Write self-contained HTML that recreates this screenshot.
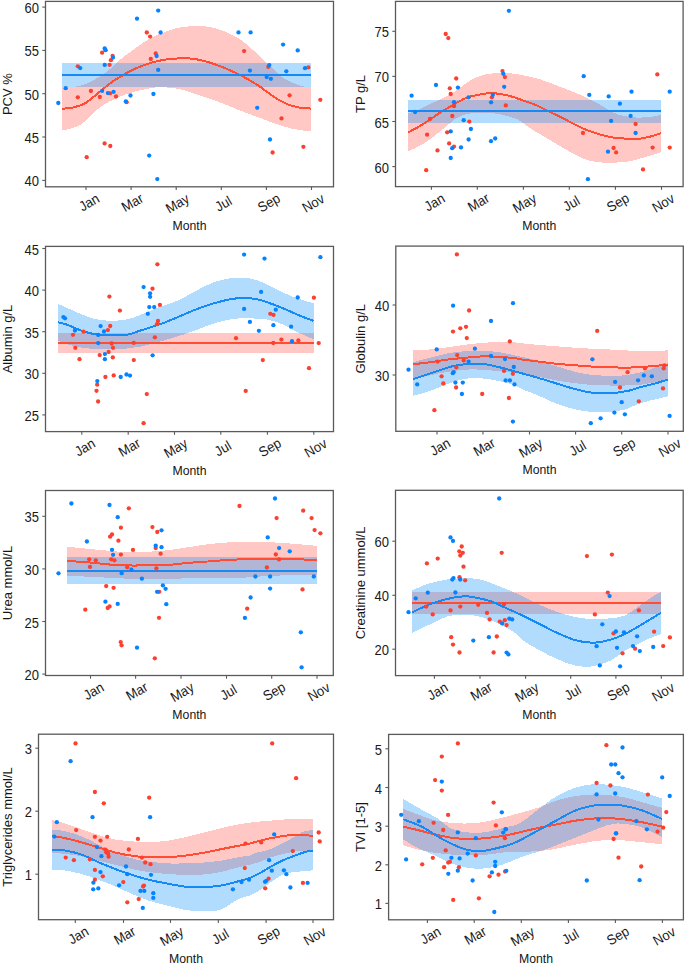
<!DOCTYPE html>
<html><head><meta charset="utf-8"><style>
html,body{margin:0;padding:0;background:#fff;}
svg{display:block;font-family:"Liberation Sans",sans-serif;}
</style></head><body>
<svg width="685" height="965" viewBox="0 0 685 965">
<rect width="685" height="965" fill="#ffffff"/>
<g clip-path="url(#c1)"><path d="M62,86.9 C64.22,86.85 71.78,86.95 75.3,86.6 C78.82,86.25 80.33,85.68 83.1,84.8 C85.87,83.92 89.27,82.62 91.9,81.3 C94.53,79.98 96.72,78.28 98.9,76.9 C101.08,75.52 102.95,74.47 105,73 C107.05,71.53 109.3,69.75 111.2,68.1 C113.1,66.45 114.5,64.85 116.4,63.1 C118.3,61.35 119.9,59.72 122.6,57.6 C125.3,55.48 129.12,52.92 132.6,50.4 C136.08,47.88 139.85,44.88 143.5,42.5 C147.15,40.12 150.92,37.85 154.5,36.1 C158.08,34.35 161.17,33.35 165,32 C168.83,30.65 171.92,29.02 177.5,28 C183.08,26.98 191.78,25.75 198.5,25.9 C205.22,26.05 211.08,26.8 217.8,28.9 C224.52,31 232.95,35 238.8,38.5 C244.65,42 248.52,46.1 252.9,49.9 C257.28,53.7 262.25,58.72 265.1,61.3 C267.95,63.88 267.48,63.02 270,65.4 C272.52,67.78 276.8,72.87 280.2,75.6 C283.6,78.33 286.48,79.98 290.4,81.8 C294.32,83.62 300.27,85.65 303.7,86.5 C307.13,87.35 309.78,86.83 311,86.9 L311,130.9 C309.78,130.85 307.13,131.03 303.7,130.6 C300.27,130.17 294.35,129.23 290.4,128.3 C286.45,127.37 283.4,126.1 280,125 C276.6,123.9 273.65,123 270,121.7 C266.35,120.4 263.3,119.13 258.1,117.2 C252.9,115.27 245.15,112.58 238.8,110.1 C232.45,107.62 227.07,104.95 220,102.3 C212.93,99.65 203.27,96.43 196.4,94.2 C189.53,91.97 184.65,90.07 178.8,88.9 C172.95,87.73 165.67,87.35 161.3,87.2 C156.93,87.05 156.98,87.28 152.6,88 C148.22,88.72 140.85,89.88 135,91.5 C129.15,93.12 123.33,95.07 117.5,97.7 C111.67,100.33 106.25,102.75 100,107.3 C93.75,111.85 86.33,121.12 80,125 C73.67,128.88 65,129.67 62,130.6 Z" fill="#FF483A" fill-opacity="0.3" shape-rendering="crispEdges"/><rect x="62" y="62.9" width="249.1" height="24" fill="#008CFA" fill-opacity="0.3" shape-rendering="crispEdges"/><path d="M62,108.7 C63.83,108.5 69.12,108.43 73,107.5 C76.88,106.57 81.2,105.43 85.3,103.1 C89.4,100.77 93.22,96.97 97.6,93.5 C101.98,90.03 106.93,85.62 111.6,82.3 C116.27,78.98 121.52,75.93 125.6,73.6 C129.68,71.27 132.02,70.05 136.1,68.3 C140.18,66.55 145.28,64.55 150.1,63.1 C154.92,61.65 160.52,60.37 165,59.6 C169.48,58.83 173.45,58.73 177,58.5 C180.55,58.27 182.13,57.88 186.3,58.2 C190.47,58.52 196.17,59 202,60.4 C207.83,61.8 214.87,64.12 221.3,66.6 C227.73,69.08 234.47,72.17 240.6,75.3 C246.73,78.43 253.77,82.68 258.1,85.4 C262.43,88.12 263.35,89.3 266.6,91.6 C269.85,93.9 273.95,97.03 277.6,99.2 C281.25,101.37 284.85,103.2 288.5,104.6 C292.15,106 295.75,106.93 299.5,107.6 C303.25,108.27 309.08,108.43 311,108.6" fill="none" stroke="#FF4C33" stroke-width="2.0" shape-rendering="crispEdges"/><line x1="62" y1="74.85" x2="311.1" y2="74.85" stroke="#158AF5" stroke-width="2.0" shape-rendering="crispEdges"/><circle cx="146.8" cy="32.5" r="2.15" fill="#FC4030"/><circle cx="150.1" cy="36.6" r="2.15" fill="#FC4030"/><circle cx="102.1" cy="52.7" r="2.15" fill="#FC4030"/><circle cx="112.6" cy="55.8" r="2.15" fill="#FC4030"/><circle cx="110.9" cy="60.2" r="2.15" fill="#FC4030"/><circle cx="155.7" cy="53.4" r="2.15" fill="#FC4030"/><circle cx="150.8" cy="59" r="2.15" fill="#FC4030"/><circle cx="109.6" cy="64.8" r="2.15" fill="#FC4030"/><circle cx="77.8" cy="66.3" r="2.15" fill="#FC4030"/><circle cx="90.9" cy="91" r="2.15" fill="#FC4030"/><circle cx="77.8" cy="97.3" r="2.15" fill="#FC4030"/><circle cx="99.8" cy="97" r="2.15" fill="#FC4030"/><circle cx="110.2" cy="93.3" r="2.15" fill="#FC4030"/><circle cx="116" cy="96.5" r="2.15" fill="#FC4030"/><circle cx="126.6" cy="102.2" r="2.15" fill="#FC4030"/><circle cx="104.6" cy="143.4" r="2.15" fill="#FC4030"/><circle cx="110.3" cy="146" r="2.15" fill="#FC4030"/><circle cx="86.7" cy="157.2" r="2.15" fill="#FC4030"/><circle cx="244.1" cy="51.1" r="2.15" fill="#FC4030"/><circle cx="268.3" cy="66.9" r="2.15" fill="#FC4030"/><circle cx="272.6" cy="152.5" r="2.15" fill="#FC4030"/><circle cx="308.4" cy="67.4" r="2.15" fill="#FC4030"/><circle cx="289.6" cy="95.3" r="2.15" fill="#FC4030"/><circle cx="320.3" cy="99.8" r="2.15" fill="#FC4030"/><circle cx="281.5" cy="118.4" r="2.15" fill="#FC4030"/><circle cx="303.4" cy="146.8" r="2.15" fill="#FC4030"/><circle cx="158.2" cy="10.6" r="2.15" fill="#0482FF"/><circle cx="137" cy="18.7" r="2.15" fill="#0482FF"/><circle cx="160.6" cy="32.5" r="2.15" fill="#0482FF"/><circle cx="104.7" cy="48.5" r="2.15" fill="#0482FF"/><circle cx="105.6" cy="50.2" r="2.15" fill="#0482FF"/><circle cx="113" cy="57.6" r="2.15" fill="#0482FF"/><circle cx="156.6" cy="56" r="2.15" fill="#0482FF"/><circle cx="104.7" cy="64.9" r="2.15" fill="#0482FF"/><circle cx="80.2" cy="68.1" r="2.15" fill="#0482FF"/><circle cx="158.2" cy="69.9" r="2.15" fill="#0482FF"/><circle cx="65.7" cy="88.2" r="2.15" fill="#0482FF"/><circle cx="102.1" cy="90.9" r="2.15" fill="#0482FF"/><circle cx="113.6" cy="91.8" r="2.15" fill="#0482FF"/><circle cx="107.9" cy="93.1" r="2.15" fill="#0482FF"/><circle cx="153.4" cy="94" r="2.15" fill="#0482FF"/><circle cx="130.5" cy="95.5" r="2.15" fill="#0482FF"/><circle cx="58.3" cy="103" r="2.15" fill="#0482FF"/><circle cx="125.8" cy="101.4" r="2.15" fill="#0482FF"/><circle cx="149.2" cy="155.6" r="2.15" fill="#0482FF"/><circle cx="157.3" cy="179.1" r="2.15" fill="#0482FF"/><circle cx="238.5" cy="32.4" r="2.15" fill="#0482FF"/><circle cx="250.6" cy="32.4" r="2.15" fill="#0482FF"/><circle cx="249.9" cy="70.6" r="2.15" fill="#0482FF"/><circle cx="269.3" cy="65.1" r="2.15" fill="#0482FF"/><circle cx="266.7" cy="77" r="2.15" fill="#0482FF"/><circle cx="270.9" cy="78.8" r="2.15" fill="#0482FF"/><circle cx="257.2" cy="107.8" r="2.15" fill="#0482FF"/><circle cx="270" cy="139.5" r="2.15" fill="#0482FF"/><circle cx="283.1" cy="44.6" r="2.15" fill="#0482FF"/><circle cx="297.7" cy="50.4" r="2.15" fill="#0482FF"/><circle cx="286.3" cy="71.3" r="2.15" fill="#0482FF"/><circle cx="305" cy="68.2" r="2.15" fill="#0482FF"/></g>
<clipPath id="c1"><rect x="45.5" y="1.4" width="288" height="185.4"/></clipPath>
<rect x="45.5" y="1.4" width="288" height="185.4" fill="none" stroke="#5a5a5a" stroke-width="1.3"/>
<line x1="42.3" y1="7.1" x2="45.5" y2="7.1" stroke="#5a5a5a" stroke-width="1.1"/>
<text transform="translate(38.9 13.1) scale(0.93 1)" font-size="14" text-anchor="end" fill="#1a1a1a">60</text>
<line x1="42.3" y1="50.4" x2="45.5" y2="50.4" stroke="#5a5a5a" stroke-width="1.1"/>
<text transform="translate(38.9 56.4) scale(0.93 1)" font-size="14" text-anchor="end" fill="#1a1a1a">55</text>
<line x1="42.3" y1="93.7" x2="45.5" y2="93.7" stroke="#5a5a5a" stroke-width="1.1"/>
<text transform="translate(38.9 99.7) scale(0.93 1)" font-size="14" text-anchor="end" fill="#1a1a1a">50</text>
<line x1="42.3" y1="137" x2="45.5" y2="137" stroke="#5a5a5a" stroke-width="1.1"/>
<text transform="translate(38.9 143) scale(0.93 1)" font-size="14" text-anchor="end" fill="#1a1a1a">45</text>
<line x1="42.3" y1="180.4" x2="45.5" y2="180.4" stroke="#5a5a5a" stroke-width="1.1"/>
<text transform="translate(38.9 186.4) scale(0.93 1)" font-size="14" text-anchor="end" fill="#1a1a1a">40</text>
<line x1="86" y1="186.8" x2="86" y2="190" stroke="#5a5a5a" stroke-width="1.1"/>
<text transform="translate(89 202.25) rotate(-30) scale(0.93 1)" y="5" font-size="14" text-anchor="middle" fill="#1a1a1a">Jan</text>
<line x1="131.1" y1="186.8" x2="131.1" y2="190" stroke="#5a5a5a" stroke-width="1.1"/>
<text transform="translate(132.2 202.4) rotate(-30) scale(0.93 1)" y="5" font-size="14" text-anchor="middle" fill="#1a1a1a">Mar</text>
<line x1="176.2" y1="186.8" x2="176.2" y2="190" stroke="#5a5a5a" stroke-width="1.1"/>
<text transform="translate(177.3 203.2) rotate(-30) scale(0.93 1)" y="5" font-size="14" text-anchor="middle" fill="#1a1a1a">May</text>
<line x1="221.3" y1="186.8" x2="221.3" y2="190" stroke="#5a5a5a" stroke-width="1.1"/>
<text transform="translate(223.2 203.5) rotate(-30) scale(0.93 1)" y="5" font-size="14" text-anchor="middle" fill="#1a1a1a">Jul</text>
<line x1="266.4" y1="186.8" x2="266.4" y2="190" stroke="#5a5a5a" stroke-width="1.1"/>
<text transform="translate(268.7 202.5) rotate(-30) scale(0.93 1)" y="5" font-size="14" text-anchor="middle" fill="#1a1a1a">Sep</text>
<line x1="311.5" y1="186.8" x2="311.5" y2="190" stroke="#5a5a5a" stroke-width="1.1"/>
<text transform="translate(313.2 203) rotate(-30) scale(0.93 1)" y="5" font-size="14" text-anchor="middle" fill="#1a1a1a">Nov</text>
<text transform="translate(189.5 229.8) scale(0.944 1)" font-size="13" text-anchor="middle" fill="#151515">Month</text>
<text transform="translate(12 94.1) rotate(-90) scale(1.0 1)" font-size="13" text-anchor="middle" fill="#151515">PCV %</text>
<g clip-path="url(#c2)"><path d="M408.1,113.6 C409.42,113.12 413.48,111.73 416,110.7 C418.52,109.67 420.78,108.55 423.2,107.4 C425.62,106.25 427.93,105.02 430.5,103.8 C433.07,102.58 435.55,101.57 438.6,100.1 C441.65,98.63 445.85,96.6 448.8,95 C451.75,93.4 452.77,92.92 456.3,90.5 C459.83,88.08 466.02,82.92 470,80.5 C473.98,78.08 476.45,77.18 480.2,76 C483.95,74.82 487.38,73.83 492.5,73.4 C497.62,72.97 505.28,72.97 510.9,73.4 C516.52,73.83 521.35,75.02 526.2,76 C531.05,76.98 534.77,77.67 540,79.3 C545.23,80.93 551.77,83.6 557.6,85.8 C563.43,88 569.35,90.1 575,92.5 C580.65,94.9 587.33,98.2 591.5,100.2 C595.67,102.2 597.37,102.98 600,104.5 C602.63,106.02 604.27,107.62 607.3,109.3 C610.33,110.98 613.83,113.25 618.2,114.6 C622.57,115.95 628.38,116.98 633.5,117.4 C638.62,117.82 644.33,117.5 648.9,117.1 C653.47,116.7 658.9,115.35 660.9,115 L660.9,152.3 C659.45,152.75 655.9,153.88 652.2,155 C648.5,156.12 643.23,157.83 638.7,159 C634.17,160.17 629.77,161.4 625,162 C620.23,162.6 614.62,162.58 610.1,162.6 C605.58,162.62 602.28,162.7 597.9,162.1 C593.52,161.5 589.07,161.05 583.8,159 C578.53,156.95 572.13,153.08 566.3,149.8 C560.47,146.52 554.63,142.77 548.8,139.3 C542.97,135.83 536.17,132.12 531.3,129 C526.43,125.88 523.15,122.63 519.6,120.6 C516.05,118.57 514.12,118 510,116.8 C505.88,115.6 499.95,114.08 494.9,113.4 C489.85,112.72 484.45,112.6 479.7,112.7 C474.95,112.8 470.18,113.15 466.4,114 C462.62,114.85 459.53,116.43 457,117.8 C454.47,119.17 452.8,120.93 451.2,122.2 C449.6,123.47 449.6,123.6 447.4,125.4 C445.2,127.2 441.15,130.48 438,133 C434.85,135.52 431.67,138.3 428.5,140.5 C425.33,142.7 422.4,144.33 419,146.2 C415.6,148.07 409.92,150.78 408.1,151.7 Z" fill="#FF483A" fill-opacity="0.3" shape-rendering="crispEdges"/><rect x="408.1" y="100.2" width="252.8" height="22.4" fill="#008CFA" fill-opacity="0.3" shape-rendering="crispEdges"/><path d="M408.1,132.4 C409.92,131.43 415.6,128.57 419,126.6 C422.4,124.63 425.33,122.7 428.5,120.6 C431.67,118.5 434.85,116.05 438,114 C441.15,111.95 444.23,110.2 447.4,108.3 C450.57,106.4 453.83,104.35 457,102.6 C460.17,100.85 463.25,99.02 466.4,97.8 C469.55,96.58 472.23,96.05 475.9,95.3 C479.57,94.55 484.27,93.52 488.4,93.3 C492.53,93.08 496.62,93.4 500.7,94 C504.78,94.6 509.17,95.82 512.9,96.9 C516.63,97.98 519.68,99.32 523.1,100.5 C526.52,101.68 529.12,102.2 533.4,104 C537.68,105.8 543.32,108.63 548.8,111.3 C554.28,113.97 560.47,117.08 566.3,120 C572.13,122.92 577.95,126.32 583.8,128.8 C589.65,131.28 596.43,133.43 601.4,134.9 C606.37,136.37 609.67,136.98 613.6,137.6 C617.53,138.22 620.82,138.4 625,138.6 C629.18,138.8 634.17,139.22 638.7,138.8 C643.23,138.38 648.5,137.03 652.2,136.1 C655.9,135.17 659.45,133.68 660.9,133.2" fill="none" stroke="#FF4C33" stroke-width="2.0" shape-rendering="crispEdges"/><line x1="408.1" y1="111.35" x2="660.9" y2="111.35" stroke="#158AF5" stroke-width="2.0" shape-rendering="crispEdges"/><circle cx="445.7" cy="34" r="2.15" fill="#FC4030"/><circle cx="448.3" cy="38.1" r="2.15" fill="#FC4030"/><circle cx="456.2" cy="78.5" r="2.15" fill="#FC4030"/><circle cx="449.8" cy="88.3" r="2.15" fill="#FC4030"/><circle cx="450.7" cy="94" r="2.15" fill="#FC4030"/><circle cx="454" cy="106.2" r="2.15" fill="#FC4030"/><circle cx="452.3" cy="116" r="2.15" fill="#FC4030"/><circle cx="430" cy="119" r="2.15" fill="#FC4030"/><circle cx="469.3" cy="121.6" r="2.15" fill="#FC4030"/><circle cx="427.1" cy="134.7" r="2.15" fill="#FC4030"/><circle cx="447.2" cy="132.3" r="2.15" fill="#FC4030"/><circle cx="449.1" cy="143.4" r="2.15" fill="#FC4030"/><circle cx="454" cy="146.6" r="2.15" fill="#FC4030"/><circle cx="437.5" cy="150.4" r="2.15" fill="#FC4030"/><circle cx="426.2" cy="170.2" r="2.15" fill="#FC4030"/><circle cx="491.9" cy="97.3" r="2.15" fill="#FC4030"/><circle cx="505.8" cy="105.4" r="2.15" fill="#FC4030"/><circle cx="504.9" cy="77.1" r="2.15" fill="#FC4030"/><circle cx="502.5" cy="71.1" r="2.15" fill="#FC4030"/><circle cx="583" cy="133" r="2.15" fill="#FC4030"/><circle cx="613.6" cy="148" r="2.15" fill="#FC4030"/><circle cx="616.1" cy="152.4" r="2.15" fill="#FC4030"/><circle cx="657.3" cy="74.4" r="2.15" fill="#FC4030"/><circle cx="635.6" cy="124" r="2.15" fill="#FC4030"/><circle cx="652.6" cy="147.6" r="2.15" fill="#FC4030"/><circle cx="669.7" cy="147.6" r="2.15" fill="#FC4030"/><circle cx="643" cy="169.4" r="2.15" fill="#FC4030"/><circle cx="411.6" cy="95.7" r="2.15" fill="#0482FF"/><circle cx="436" cy="85" r="2.15" fill="#0482FF"/><circle cx="457.9" cy="87.6" r="2.15" fill="#0482FF"/><circle cx="468.5" cy="97.3" r="2.15" fill="#0482FF"/><circle cx="454" cy="102.2" r="2.15" fill="#0482FF"/><circle cx="415.1" cy="112" r="2.15" fill="#0482FF"/><circle cx="463.7" cy="120.2" r="2.15" fill="#0482FF"/><circle cx="470.9" cy="129" r="2.15" fill="#0482FF"/><circle cx="450.7" cy="131.4" r="2.15" fill="#0482FF"/><circle cx="468.6" cy="139.5" r="2.15" fill="#0482FF"/><circle cx="461" cy="147.4" r="2.15" fill="#0482FF"/><circle cx="452.2" cy="148.2" r="2.15" fill="#0482FF"/><circle cx="450.7" cy="158" r="2.15" fill="#0482FF"/><circle cx="491" cy="141.2" r="2.15" fill="#0482FF"/><circle cx="495.2" cy="138.5" r="2.15" fill="#0482FF"/><circle cx="491.1" cy="102.3" r="2.15" fill="#0482FF"/><circle cx="492.9" cy="94.8" r="2.15" fill="#0482FF"/><circle cx="504.2" cy="86.8" r="2.15" fill="#0482FF"/><circle cx="503.3" cy="73.8" r="2.15" fill="#0482FF"/><circle cx="508.9" cy="10.8" r="2.15" fill="#0482FF"/><circle cx="583.7" cy="76.2" r="2.15" fill="#0482FF"/><circle cx="589.3" cy="94.9" r="2.15" fill="#0482FF"/><circle cx="608.7" cy="96.4" r="2.15" fill="#0482FF"/><circle cx="619.9" cy="103.7" r="2.15" fill="#0482FF"/><circle cx="611.1" cy="120.9" r="2.15" fill="#0482FF"/><circle cx="608" cy="151.7" r="2.15" fill="#0482FF"/><circle cx="587.9" cy="179.2" r="2.15" fill="#0482FF"/><circle cx="631.5" cy="91.7" r="2.15" fill="#0482FF"/><circle cx="669.7" cy="91.7" r="2.15" fill="#0482FF"/><circle cx="630.6" cy="115.9" r="2.15" fill="#0482FF"/><circle cx="635.6" cy="133" r="2.15" fill="#0482FF"/></g>
<clipPath id="c2"><rect x="395.5" y="1.4" width="287.6" height="185.2"/></clipPath>
<rect x="395.5" y="1.4" width="287.6" height="185.2" fill="none" stroke="#5a5a5a" stroke-width="1.3"/>
<line x1="392.3" y1="31.3" x2="395.5" y2="31.3" stroke="#5a5a5a" stroke-width="1.1"/>
<text transform="translate(388.9 37.3) scale(0.93 1)" font-size="14" text-anchor="end" fill="#1a1a1a">75</text>
<line x1="392.3" y1="76.4" x2="395.5" y2="76.4" stroke="#5a5a5a" stroke-width="1.1"/>
<text transform="translate(388.9 82.4) scale(0.93 1)" font-size="14" text-anchor="end" fill="#1a1a1a">70</text>
<line x1="392.3" y1="121.5" x2="395.5" y2="121.5" stroke="#5a5a5a" stroke-width="1.1"/>
<text transform="translate(388.9 127.5) scale(0.93 1)" font-size="14" text-anchor="end" fill="#1a1a1a">65</text>
<line x1="392.3" y1="166.6" x2="395.5" y2="166.6" stroke="#5a5a5a" stroke-width="1.1"/>
<text transform="translate(388.9 172.6) scale(0.93 1)" font-size="14" text-anchor="end" fill="#1a1a1a">60</text>
<line x1="431.4" y1="186.6" x2="431.4" y2="189.8" stroke="#5a5a5a" stroke-width="1.1"/>
<text transform="translate(434.4 202.05) rotate(-30) scale(0.93 1)" y="5" font-size="14" text-anchor="middle" fill="#1a1a1a">Jan</text>
<line x1="477.3" y1="186.6" x2="477.3" y2="189.8" stroke="#5a5a5a" stroke-width="1.1"/>
<text transform="translate(478.4 202.2) rotate(-30) scale(0.93 1)" y="5" font-size="14" text-anchor="middle" fill="#1a1a1a">Mar</text>
<line x1="523.4" y1="186.6" x2="523.4" y2="189.8" stroke="#5a5a5a" stroke-width="1.1"/>
<text transform="translate(524.5 203) rotate(-30) scale(0.93 1)" y="5" font-size="14" text-anchor="middle" fill="#1a1a1a">May</text>
<line x1="569.3" y1="186.6" x2="569.3" y2="189.8" stroke="#5a5a5a" stroke-width="1.1"/>
<text transform="translate(571.2 203.3) rotate(-30) scale(0.93 1)" y="5" font-size="14" text-anchor="middle" fill="#1a1a1a">Jul</text>
<line x1="615.4" y1="186.6" x2="615.4" y2="189.8" stroke="#5a5a5a" stroke-width="1.1"/>
<text transform="translate(617.7 202.3) rotate(-30) scale(0.93 1)" y="5" font-size="14" text-anchor="middle" fill="#1a1a1a">Sep</text>
<line x1="661.5" y1="186.6" x2="661.5" y2="189.8" stroke="#5a5a5a" stroke-width="1.1"/>
<text transform="translate(663.2 202.8) rotate(-30) scale(0.93 1)" y="5" font-size="14" text-anchor="middle" fill="#1a1a1a">Nov</text>
<text transform="translate(539.3 229.6) scale(0.944 1)" font-size="13" text-anchor="middle" fill="#151515">Month</text>
<text transform="translate(365.3 94) rotate(-90) scale(1.0 1)" font-size="13" text-anchor="middle" fill="#151515">TP g/L</text>
<g clip-path="url(#c3)"><rect x="58.1" y="333.4" width="255.5" height="19.3" fill="#FF483A" fill-opacity="0.3" shape-rendering="crispEdges"/><path d="M58.1,304 C59.67,304.68 64.47,306.75 67.5,308.1 C70.53,309.45 73.38,310.85 76.3,312.1 C79.22,313.35 82.08,314.52 85,315.6 C87.92,316.68 90.87,317.83 93.8,318.6 C96.73,319.37 99.9,319.87 102.6,320.2 C105.3,320.53 106.93,320.58 110,320.6 C113.07,320.62 117.1,320.8 121,320.3 C124.9,319.8 129.27,318.88 133.4,317.6 C137.53,316.32 141.67,314.28 145.8,312.6 C149.93,310.92 152.92,309.5 158.2,307.5 C163.48,305.5 171.37,303.28 177.5,300.6 C183.63,297.92 189.15,294.38 195,291.4 C200.85,288.42 206.75,284.88 212.6,282.7 C218.45,280.52 224.85,279.1 230.1,278.3 C235.35,277.5 239.72,277.62 244.1,277.9 C248.48,278.18 252.52,278.87 256.4,280 C260.28,281.13 263.5,282.88 267.4,284.7 C271.3,286.52 275.67,288.93 279.8,290.9 C283.93,292.87 288.07,294.85 292.2,296.5 C296.33,298.15 301.03,299.67 304.6,300.8 C308.17,301.93 312.1,302.88 313.6,303.3 L313.6,339.3 C311.48,338.37 304.47,335.35 300.9,333.7 C297.33,332.05 295.72,331.15 292.2,329.4 C288.68,327.65 283.93,324.85 279.8,323.2 C275.67,321.55 271.02,320.23 267.4,319.5 C263.78,318.77 261.98,319.02 258.1,318.8 C254.22,318.58 248.77,318.08 244.1,318.2 C239.43,318.32 235.35,318.57 230.1,319.5 C224.85,320.43 218.45,321.97 212.6,323.8 C206.75,325.63 200.85,328.38 195,330.5 C189.15,332.62 183.33,334.67 177.5,336.5 C171.67,338.33 165.68,339.92 160,341.5 C154.32,343.08 150.05,344.73 143.4,346 C136.75,347.27 127.88,348.58 120.1,349.1 C112.32,349.62 104,349.5 96.7,349.1 C89.4,348.7 82.73,348.05 76.3,346.7 C69.87,345.35 61.13,341.95 58.1,341 Z" fill="#008CFA" fill-opacity="0.3" shape-rendering="crispEdges"/><line x1="58.1" y1="342.9" x2="313.6" y2="342.9" stroke="#FF4C33" stroke-width="2.0" shape-rendering="crispEdges"/><path d="M58.1,322.2 C59.67,322.63 64.47,323.72 67.5,324.8 C70.53,325.88 73.38,327.53 76.3,328.7 C79.22,329.87 82.08,330.92 85,331.8 C87.92,332.68 90.87,333.5 93.8,334 C96.73,334.5 99.07,334.62 102.6,334.8 C106.13,334.98 110.9,335.1 115,335.1 C119.1,335.1 123.1,335.52 127.2,334.8 C131.3,334.08 135.47,332.12 139.6,330.8 C143.73,329.48 147.85,328.27 152,326.9 C156.15,325.53 160.25,324.22 164.5,322.6 C168.75,320.98 172.42,319.33 177.5,317.2 C182.58,315.07 189.15,312.05 195,309.8 C200.85,307.55 206.75,305.45 212.6,303.7 C218.45,301.95 224.85,300.27 230.1,299.3 C235.35,298.33 239.43,297.87 244.1,297.9 C248.77,297.93 253.18,298.38 258.1,299.5 C263.02,300.62 268.95,302.93 273.6,304.6 C278.25,306.27 281.87,307.75 286,309.5 C290.13,311.25 293.8,313.2 298.4,315.1 C303,317 311.07,319.93 313.6,320.9" fill="none" stroke="#158AF5" stroke-width="2.0" shape-rendering="crispEdges"/><circle cx="109.4" cy="296.6" r="2.15" fill="#FC4030"/><circle cx="119.9" cy="310.6" r="2.15" fill="#FC4030"/><circle cx="110.2" cy="326" r="2.15" fill="#FC4030"/><circle cx="107.9" cy="330.1" r="2.15" fill="#FC4030"/><circle cx="83.5" cy="331.7" r="2.15" fill="#FC4030"/><circle cx="73" cy="334.8" r="2.15" fill="#FC4030"/><circle cx="75.3" cy="347.8" r="2.15" fill="#FC4030"/><circle cx="111.6" cy="343.5" r="2.15" fill="#FC4030"/><circle cx="113" cy="347.8" r="2.15" fill="#FC4030"/><circle cx="108.6" cy="352" r="2.15" fill="#FC4030"/><circle cx="99.7" cy="355.1" r="2.15" fill="#FC4030"/><circle cx="112.8" cy="357.4" r="2.15" fill="#FC4030"/><circle cx="79.5" cy="359.2" r="2.15" fill="#FC4030"/><circle cx="133.7" cy="342.9" r="2.15" fill="#FC4030"/><circle cx="133.8" cy="360.1" r="2.15" fill="#FC4030"/><circle cx="154.9" cy="337.3" r="2.15" fill="#FC4030"/><circle cx="157" cy="324.2" r="2.15" fill="#FC4030"/><circle cx="158" cy="321" r="2.15" fill="#FC4030"/><circle cx="105.4" cy="377" r="2.15" fill="#FC4030"/><circle cx="113.7" cy="375.4" r="2.15" fill="#FC4030"/><circle cx="97.2" cy="384.7" r="2.15" fill="#FC4030"/><circle cx="96.5" cy="390.8" r="2.15" fill="#FC4030"/><circle cx="98.1" cy="401.5" r="2.15" fill="#FC4030"/><circle cx="146.8" cy="394.1" r="2.15" fill="#FC4030"/><circle cx="143.6" cy="423.2" r="2.15" fill="#FC4030"/><circle cx="157.4" cy="264.3" r="2.15" fill="#FC4030"/><circle cx="152.5" cy="288.7" r="2.15" fill="#FC4030"/><circle cx="159.9" cy="304.9" r="2.15" fill="#FC4030"/><circle cx="236" cy="338.2" r="2.15" fill="#FC4030"/><circle cx="273.3" cy="343" r="2.15" fill="#FC4030"/><circle cx="262.8" cy="360.1" r="2.15" fill="#FC4030"/><circle cx="245.7" cy="390.9" r="2.15" fill="#FC4030"/><circle cx="270.3" cy="313.8" r="2.15" fill="#FC4030"/><circle cx="273.5" cy="314.9" r="2.15" fill="#FC4030"/><circle cx="313.9" cy="297.7" r="2.15" fill="#FC4030"/><circle cx="281.4" cy="339.6" r="2.15" fill="#FC4030"/><circle cx="298.4" cy="340.5" r="2.15" fill="#FC4030"/><circle cx="318.7" cy="343.1" r="2.15" fill="#FC4030"/><circle cx="309" cy="368.2" r="2.15" fill="#FC4030"/><circle cx="63.4" cy="317.1" r="2.15" fill="#0482FF"/><circle cx="65" cy="318.3" r="2.15" fill="#0482FF"/><circle cx="75" cy="330.6" r="2.15" fill="#0482FF"/><circle cx="100.6" cy="326.1" r="2.15" fill="#0482FF"/><circle cx="104" cy="331.5" r="2.15" fill="#0482FF"/><circle cx="98.2" cy="334.9" r="2.15" fill="#0482FF"/><circle cx="98.2" cy="343.1" r="2.15" fill="#0482FF"/><circle cx="104.9" cy="354.1" r="2.15" fill="#0482FF"/><circle cx="104.9" cy="359.2" r="2.15" fill="#0482FF"/><circle cx="147.8" cy="313.8" r="2.15" fill="#0482FF"/><circle cx="152.6" cy="355.3" r="2.15" fill="#0482FF"/><circle cx="120.7" cy="377" r="2.15" fill="#0482FF"/><circle cx="126.5" cy="374.5" r="2.15" fill="#0482FF"/><circle cx="130" cy="375.6" r="2.15" fill="#0482FF"/><circle cx="97.3" cy="381.1" r="2.15" fill="#0482FF"/><circle cx="143.6" cy="287.1" r="2.15" fill="#0482FF"/><circle cx="150.1" cy="293.3" r="2.15" fill="#0482FF"/><circle cx="150.1" cy="296.8" r="2.15" fill="#0482FF"/><circle cx="149.3" cy="307.1" r="2.15" fill="#0482FF"/><circle cx="154.2" cy="307.1" r="2.15" fill="#0482FF"/><circle cx="244.1" cy="254.6" r="2.15" fill="#0482FF"/><circle cx="264.5" cy="258.6" r="2.15" fill="#0482FF"/><circle cx="261.1" cy="291.9" r="2.15" fill="#0482FF"/><circle cx="244.1" cy="308.9" r="2.15" fill="#0482FF"/><circle cx="275.8" cy="309.7" r="2.15" fill="#0482FF"/><circle cx="249.9" cy="321.9" r="2.15" fill="#0482FF"/><circle cx="273.4" cy="325.2" r="2.15" fill="#0482FF"/><circle cx="258.9" cy="330.8" r="2.15" fill="#0482FF"/><circle cx="320.4" cy="257.2" r="2.15" fill="#0482FF"/><circle cx="297.7" cy="297.5" r="2.15" fill="#0482FF"/><circle cx="291.1" cy="326.7" r="2.15" fill="#0482FF"/><circle cx="292" cy="341.2" r="2.15" fill="#0482FF"/></g>
<clipPath id="c3"><rect x="45.5" y="246.4" width="288" height="185.2"/></clipPath>
<rect x="45.5" y="246.4" width="288" height="185.2" fill="none" stroke="#5a5a5a" stroke-width="1.3"/>
<line x1="42.3" y1="248.5" x2="45.5" y2="248.5" stroke="#5a5a5a" stroke-width="1.1"/>
<text transform="translate(38.9 254.5) scale(0.93 1)" font-size="14" text-anchor="end" fill="#1a1a1a">45</text>
<line x1="42.3" y1="290.1" x2="45.5" y2="290.1" stroke="#5a5a5a" stroke-width="1.1"/>
<text transform="translate(38.9 296.1) scale(0.93 1)" font-size="14" text-anchor="end" fill="#1a1a1a">40</text>
<line x1="42.3" y1="331.7" x2="45.5" y2="331.7" stroke="#5a5a5a" stroke-width="1.1"/>
<text transform="translate(38.9 337.7) scale(0.93 1)" font-size="14" text-anchor="end" fill="#1a1a1a">35</text>
<line x1="42.3" y1="373.3" x2="45.5" y2="373.3" stroke="#5a5a5a" stroke-width="1.1"/>
<text transform="translate(38.9 379.3) scale(0.93 1)" font-size="14" text-anchor="end" fill="#1a1a1a">30</text>
<line x1="42.3" y1="414.9" x2="45.5" y2="414.9" stroke="#5a5a5a" stroke-width="1.1"/>
<text transform="translate(38.9 420.9) scale(0.93 1)" font-size="14" text-anchor="end" fill="#1a1a1a">25</text>
<line x1="81.8" y1="431.6" x2="81.8" y2="434.8" stroke="#5a5a5a" stroke-width="1.1"/>
<text transform="translate(84.8 447.05) rotate(-30) scale(0.93 1)" y="5" font-size="14" text-anchor="middle" fill="#1a1a1a">Jan</text>
<line x1="128.2" y1="431.6" x2="128.2" y2="434.8" stroke="#5a5a5a" stroke-width="1.1"/>
<text transform="translate(129.3 447.2) rotate(-30) scale(0.93 1)" y="5" font-size="14" text-anchor="middle" fill="#1a1a1a">Mar</text>
<line x1="174.5" y1="431.6" x2="174.5" y2="434.8" stroke="#5a5a5a" stroke-width="1.1"/>
<text transform="translate(175.6 448) rotate(-30) scale(0.93 1)" y="5" font-size="14" text-anchor="middle" fill="#1a1a1a">May</text>
<line x1="220.8" y1="431.6" x2="220.8" y2="434.8" stroke="#5a5a5a" stroke-width="1.1"/>
<text transform="translate(222.7 448.3) rotate(-30) scale(0.93 1)" y="5" font-size="14" text-anchor="middle" fill="#1a1a1a">Jul</text>
<line x1="267.4" y1="431.6" x2="267.4" y2="434.8" stroke="#5a5a5a" stroke-width="1.1"/>
<text transform="translate(269.7 447.3) rotate(-30) scale(0.93 1)" y="5" font-size="14" text-anchor="middle" fill="#1a1a1a">Sep</text>
<line x1="313.8" y1="431.6" x2="313.8" y2="434.8" stroke="#5a5a5a" stroke-width="1.1"/>
<text transform="translate(315.5 447.8) rotate(-30) scale(0.93 1)" y="5" font-size="14" text-anchor="middle" fill="#1a1a1a">Nov</text>
<text transform="translate(189.5 474.6) scale(0.944 1)" font-size="13" text-anchor="middle" fill="#151515">Month</text>
<text transform="translate(12 339) rotate(-90) scale(1.0 1)" font-size="13" text-anchor="middle" fill="#151515">Albumin g/L</text>
<g clip-path="url(#c4)"><path d="M413,350.5 C415.83,350.32 424.23,349.93 430,349.4 C435.77,348.87 441.75,348.08 447.6,347.3 C453.45,346.52 459.27,345.43 465.1,344.7 C470.93,343.97 476.77,343.35 482.6,342.9 C488.43,342.45 494.7,342.08 500.1,342 C505.5,341.92 511.27,342.17 515,342.4 C518.73,342.63 518.33,342.97 522.5,343.4 C526.67,343.83 534.15,344.5 540,345 C545.85,345.5 551.75,345.95 557.6,346.4 C563.45,346.85 569.27,347.3 575.1,347.7 C580.93,348.1 586.77,348.5 592.6,348.8 C598.43,349.1 604.7,349.25 610.1,349.5 C615.5,349.75 619.68,350.03 625,350.3 C630.32,350.57 634.83,351.08 642,351.1 C649.17,351.12 663.67,350.52 668,350.4 L668,379 C666,379.5 660.33,381.08 656,382 C651.67,382.92 647.17,383.92 642,384.5 C636.83,385.08 630.32,385.33 625,385.5 C619.68,385.67 615.5,385.58 610.1,385.5 C604.7,385.42 598.43,385.38 592.6,385 C586.77,384.62 580.93,383.93 575.1,383.2 C569.27,382.47 563.45,381.62 557.6,380.6 C551.75,379.58 545.85,378.23 540,377.1 C534.15,375.97 527.17,374.57 522.5,373.8 C517.83,373.03 515.73,372.92 512,372.5 C508.27,372.08 505,371.77 500.1,371.3 C495.2,370.83 488.43,369.97 482.6,369.7 C476.77,369.43 470.93,369.35 465.1,369.7 C459.27,370.05 453.45,370.87 447.6,371.8 C441.75,372.73 435.77,373.98 430,375.3 C424.23,376.62 415.83,378.97 413,379.7 Z" fill="#FF483A" fill-opacity="0.3" shape-rendering="crispEdges"/><path d="M413,362.2 C415.83,361.47 424.23,359.27 430,357.8 C435.77,356.33 441.75,354.5 447.6,353.4 C453.45,352.3 459.27,351.63 465.1,351.2 C470.93,350.77 476.77,350.62 482.6,350.8 C488.43,350.98 495.2,351.63 500.1,352.3 C505,352.97 508.27,354.02 512,354.8 C515.73,355.58 517.83,355.92 522.5,357 C527.17,358.08 534.15,359.7 540,361.3 C545.85,362.9 551.75,364.85 557.6,366.6 C563.45,368.35 569.27,370.4 575.1,371.8 C580.93,373.2 586.77,374.35 592.6,375 C598.43,375.65 604.7,375.65 610.1,375.7 C615.5,375.75 619.68,375.92 625,375.3 C630.32,374.68 636.83,373.35 642,372 C647.17,370.65 651.67,368.7 656,367.2 C660.33,365.7 666,363.7 668,363 L668,396.3 C663.67,397.38 649.17,400.62 642,402.8 C634.83,404.98 630.32,407.88 625,409.4 C619.68,410.92 615.5,411.47 610.1,411.9 C604.7,412.33 598.43,412.42 592.6,412 C586.77,411.58 580.93,410.7 575.1,409.4 C569.27,408.1 563.45,406.38 557.6,404.2 C551.75,402.02 545.85,398.78 540,396.3 C534.15,393.82 526.67,391.12 522.5,389.3 C518.33,387.48 518.73,386.72 515,385.4 C511.27,384.08 505.5,382.57 500.1,381.4 C494.7,380.23 488.43,378.83 482.6,378.4 C476.77,377.97 470.93,377.87 465.1,378.8 C459.27,379.73 453.45,381.97 447.6,384 C441.75,386.03 435.77,389.03 430,391 C424.23,392.97 415.83,395 413,395.8 Z" fill="#008CFA" fill-opacity="0.3" shape-rendering="crispEdges"/><path d="M413,364.3 C415.83,363.95 424.23,362.98 430,362.2 C435.77,361.42 441.75,360.33 447.6,359.6 C453.45,358.87 459.27,358.33 465.1,357.8 C470.93,357.27 476.77,356.55 482.6,356.4 C488.43,356.25 494.7,356.6 500.1,356.9 C505.5,357.2 511.27,357.75 515,358.2 C518.73,358.65 518.33,359.02 522.5,359.6 C526.67,360.18 534.15,360.98 540,361.7 C545.85,362.42 551.75,363.3 557.6,363.9 C563.45,364.5 569.27,364.85 575.1,365.3 C580.93,365.75 586.77,366.27 592.6,366.6 C598.43,366.93 604.7,367.13 610.1,367.3 C615.5,367.47 620.15,367.62 625,367.6 C629.85,367.58 634.03,367.5 639.2,367.2 C644.37,366.9 651.2,366.23 656,365.8 C660.8,365.37 666,364.8 668,364.6" fill="none" stroke="#FF4C33" stroke-width="2.0" shape-rendering="crispEdges"/><path d="M413,379.2 C415.83,378.27 423.65,375.7 430,373.6 C436.35,371.5 444.67,368.22 451.1,366.6 C457.53,364.98 463.35,364.35 468.6,363.9 C473.85,363.45 477.35,363.32 482.6,363.9 C487.85,364.48 494.7,366.13 500.1,367.4 C505.5,368.67 511.27,370.48 515,371.5 C518.73,372.52 518.33,372.35 522.5,373.5 C526.67,374.65 534.15,376.68 540,378.4 C545.85,380.12 551.75,382.02 557.6,383.8 C563.45,385.58 569.27,387.6 575.1,389.1 C580.93,390.6 586.77,392.12 592.6,392.8 C598.43,393.48 604.2,393.52 610.1,393.2 C616,392.88 622.68,391.98 628,390.9 C633.32,389.82 637.33,387.98 642,386.7 C646.67,385.42 651.67,384.4 656,383.2 C660.33,382 666,380.12 668,379.5" fill="none" stroke="#158AF5" stroke-width="2.0" shape-rendering="crispEdges"/><circle cx="456.9" cy="254.4" r="2.15" fill="#FC4030"/><circle cx="469.1" cy="310.5" r="2.15" fill="#FC4030"/><circle cx="453" cy="331.6" r="2.15" fill="#FC4030"/><circle cx="460.3" cy="328.3" r="2.15" fill="#FC4030"/><circle cx="466" cy="326.8" r="2.15" fill="#FC4030"/><circle cx="466.8" cy="338.1" r="2.15" fill="#FC4030"/><circle cx="509.8" cy="341.4" r="2.15" fill="#FC4030"/><circle cx="457.2" cy="355.1" r="2.15" fill="#FC4030"/><circle cx="437.6" cy="361.6" r="2.15" fill="#FC4030"/><circle cx="463.7" cy="360.4" r="2.15" fill="#FC4030"/><circle cx="456.3" cy="367.4" r="2.15" fill="#FC4030"/><circle cx="441.6" cy="376.3" r="2.15" fill="#FC4030"/><circle cx="504" cy="370.9" r="2.15" fill="#FC4030"/><circle cx="512.9" cy="373.8" r="2.15" fill="#FC4030"/><circle cx="443.3" cy="383.4" r="2.15" fill="#FC4030"/><circle cx="456.1" cy="387.5" r="2.15" fill="#FC4030"/><circle cx="482.2" cy="394" r="2.15" fill="#FC4030"/><circle cx="508.9" cy="398" r="2.15" fill="#FC4030"/><circle cx="434.4" cy="410.2" r="2.15" fill="#FC4030"/><circle cx="597.2" cy="330.9" r="2.15" fill="#FC4030"/><circle cx="620" cy="387.5" r="2.15" fill="#FC4030"/><circle cx="627.6" cy="372.2" r="2.15" fill="#FC4030"/><circle cx="645" cy="368.4" r="2.15" fill="#FC4030"/><circle cx="664.4" cy="365.4" r="2.15" fill="#FC4030"/><circle cx="663.7" cy="368.4" r="2.15" fill="#FC4030"/><circle cx="638.8" cy="401.3" r="2.15" fill="#FC4030"/><circle cx="663" cy="388.4" r="2.15" fill="#FC4030"/><circle cx="453.1" cy="305.7" r="2.15" fill="#0482FF"/><circle cx="491" cy="321" r="2.15" fill="#0482FF"/><circle cx="513" cy="303.2" r="2.15" fill="#0482FF"/><circle cx="436.7" cy="349.4" r="2.15" fill="#0482FF"/><circle cx="474.9" cy="348.7" r="2.15" fill="#0482FF"/><circle cx="491" cy="356" r="2.15" fill="#0482FF"/><circle cx="505" cy="359.1" r="2.15" fill="#0482FF"/><circle cx="468.6" cy="361.6" r="2.15" fill="#0482FF"/><circle cx="408.5" cy="369.7" r="2.15" fill="#0482FF"/><circle cx="453.7" cy="372.1" r="2.15" fill="#0482FF"/><circle cx="452.8" cy="373.2" r="2.15" fill="#0482FF"/><circle cx="417.2" cy="384.4" r="2.15" fill="#0482FF"/><circle cx="455.4" cy="382.6" r="2.15" fill="#0482FF"/><circle cx="462.8" cy="382.6" r="2.15" fill="#0482FF"/><circle cx="505.6" cy="380.4" r="2.15" fill="#0482FF"/><circle cx="509.9" cy="380.4" r="2.15" fill="#0482FF"/><circle cx="513.8" cy="367" r="2.15" fill="#0482FF"/><circle cx="514.5" cy="384.4" r="2.15" fill="#0482FF"/><circle cx="461.9" cy="394" r="2.15" fill="#0482FF"/><circle cx="512.9" cy="421.6" r="2.15" fill="#0482FF"/><circle cx="592.4" cy="359.3" r="2.15" fill="#0482FF"/><circle cx="615.1" cy="381.9" r="2.15" fill="#0482FF"/><circle cx="621.7" cy="402.2" r="2.15" fill="#0482FF"/><circle cx="614.4" cy="412.6" r="2.15" fill="#0482FF"/><circle cx="624.9" cy="414.3" r="2.15" fill="#0482FF"/><circle cx="600.6" cy="418.3" r="2.15" fill="#0482FF"/><circle cx="590.8" cy="423.2" r="2.15" fill="#0482FF"/><circle cx="638.1" cy="380.3" r="2.15" fill="#0482FF"/><circle cx="643.8" cy="375.4" r="2.15" fill="#0482FF"/><circle cx="651.8" cy="376.3" r="2.15" fill="#0482FF"/><circle cx="669.6" cy="415.9" r="2.15" fill="#0482FF"/></g>
<clipPath id="c4"><rect x="395.8" y="246.1" width="287.5" height="185.2"/></clipPath>
<rect x="395.8" y="246.1" width="287.5" height="185.2" fill="none" stroke="#5a5a5a" stroke-width="1.3"/>
<line x1="392.6" y1="305" x2="395.8" y2="305" stroke="#5a5a5a" stroke-width="1.1"/>
<text transform="translate(389.2 311) scale(0.93 1)" font-size="14" text-anchor="end" fill="#1a1a1a">40</text>
<line x1="392.6" y1="375" x2="395.8" y2="375" stroke="#5a5a5a" stroke-width="1.1"/>
<text transform="translate(389.2 381) scale(0.93 1)" font-size="14" text-anchor="end" fill="#1a1a1a">30</text>
<line x1="437" y1="431.3" x2="437" y2="434.5" stroke="#5a5a5a" stroke-width="1.1"/>
<text transform="translate(440 446.75) rotate(-30) scale(0.93 1)" y="5" font-size="14" text-anchor="middle" fill="#1a1a1a">Jan</text>
<line x1="483" y1="431.3" x2="483" y2="434.5" stroke="#5a5a5a" stroke-width="1.1"/>
<text transform="translate(484.1 446.9) rotate(-30) scale(0.93 1)" y="5" font-size="14" text-anchor="middle" fill="#1a1a1a">Mar</text>
<line x1="529.5" y1="431.3" x2="529.5" y2="434.5" stroke="#5a5a5a" stroke-width="1.1"/>
<text transform="translate(530.6 447.7) rotate(-30) scale(0.93 1)" y="5" font-size="14" text-anchor="middle" fill="#1a1a1a">May</text>
<line x1="575.6" y1="431.3" x2="575.6" y2="434.5" stroke="#5a5a5a" stroke-width="1.1"/>
<text transform="translate(577.5 448) rotate(-30) scale(0.93 1)" y="5" font-size="14" text-anchor="middle" fill="#1a1a1a">Jul</text>
<line x1="621.7" y1="431.3" x2="621.7" y2="434.5" stroke="#5a5a5a" stroke-width="1.1"/>
<text transform="translate(624 447) rotate(-30) scale(0.93 1)" y="5" font-size="14" text-anchor="middle" fill="#1a1a1a">Sep</text>
<line x1="668" y1="431.3" x2="668" y2="434.5" stroke="#5a5a5a" stroke-width="1.1"/>
<text transform="translate(669.7 447.5) rotate(-30) scale(0.93 1)" y="5" font-size="14" text-anchor="middle" fill="#1a1a1a">Nov</text>
<text transform="translate(539.55 474.3) scale(0.944 1)" font-size="13" text-anchor="middle" fill="#151515">Month</text>
<text transform="translate(365.3 338.7) rotate(-90) scale(1.0 1)" font-size="13" text-anchor="middle" fill="#151515">Globulin g/L</text>
<g clip-path="url(#c5)"><path d="M67,546.7 C72.5,547.25 89.5,549.07 100,550 C110.5,550.93 120.83,552.08 130,552.3 C139.17,552.52 147.9,551.75 155,551.3 C162.1,550.85 166.75,550.33 172.6,549.6 C178.45,548.87 184.27,547.78 190.1,546.9 C195.93,546.02 201.77,545.02 207.6,544.3 C213.43,543.58 218.68,543.03 225.1,542.6 C231.52,542.17 238.6,541.77 246.1,541.7 C253.6,541.63 262.08,541.85 270.1,542.2 C278.12,542.55 286.4,543.18 294.2,543.8 C302,544.42 313.12,545.55 316.9,545.9 L316.9,575.1 C313.12,575.1 302,574.97 294.2,575.1 C286.4,575.23 278.12,575.5 270.1,575.9 C262.08,576.3 252.78,577.15 246.1,577.5 C239.42,577.85 237.88,577.93 230,578 C222.12,578.07 206.92,577.82 198.8,577.9 C190.68,577.98 187.13,578.27 181.3,578.5 C175.47,578.73 169.63,579.17 163.8,579.3 C157.97,579.43 151.93,579.38 146.3,579.3 C140.67,579.22 137.72,579.13 130,578.8 C122.28,578.47 110.5,577.82 100,577.3 C89.5,576.78 72.5,575.97 67,575.7 Z" fill="#FF483A" fill-opacity="0.3" shape-rendering="crispEdges"/><rect x="67" y="557.1" width="249.9" height="26.6" fill="#008CFA" fill-opacity="0.3" shape-rendering="crispEdges"/><path d="M67,560.9 C70.83,561.17 81.17,561.77 90,562.5 C98.83,563.23 109.17,564.83 120,565.3 C130.83,565.77 146.23,565.43 155,565.3 C163.77,565.17 166.75,564.93 172.6,564.5 C178.45,564.07 184.27,563.2 190.1,562.7 C195.93,562.2 201.77,561.93 207.6,561.5 C213.43,561.07 219.7,560.45 225.1,560.1 C230.5,559.75 234.1,559.63 240,559.4 C245.9,559.17 254.13,558.82 260.5,558.7 C266.87,558.58 272.62,558.62 278.2,558.7 C283.78,558.78 289.72,559.07 294,559.2 C298.28,559.33 300.08,559.32 303.9,559.5 C307.72,559.68 314.73,560.17 316.9,560.3" fill="none" stroke="#FF4C33" stroke-width="2.0" shape-rendering="crispEdges"/><line x1="67" y1="570.9" x2="316.9" y2="570.9" stroke="#158AF5" stroke-width="2.0" shape-rendering="crispEdges"/><circle cx="128.8" cy="508.3" r="2.15" fill="#FC4030"/><circle cx="120.9" cy="527.7" r="2.15" fill="#FC4030"/><circle cx="112" cy="534.5" r="2.15" fill="#FC4030"/><circle cx="110.1" cy="536.7" r="2.15" fill="#FC4030"/><circle cx="118.4" cy="540.7" r="2.15" fill="#FC4030"/><circle cx="120.9" cy="554.6" r="2.15" fill="#FC4030"/><circle cx="89.2" cy="559.3" r="2.15" fill="#FC4030"/><circle cx="95.8" cy="560.3" r="2.15" fill="#FC4030"/><circle cx="90" cy="566.9" r="2.15" fill="#FC4030"/><circle cx="111.2" cy="559.3" r="2.15" fill="#FC4030"/><circle cx="114.4" cy="560.3" r="2.15" fill="#FC4030"/><circle cx="127.2" cy="567.3" r="2.15" fill="#FC4030"/><circle cx="106.2" cy="586.1" r="2.15" fill="#FC4030"/><circle cx="113.6" cy="587.8" r="2.15" fill="#FC4030"/><circle cx="159.2" cy="591.8" r="2.15" fill="#FC4030"/><circle cx="85.3" cy="609.7" r="2.15" fill="#FC4030"/><circle cx="107.7" cy="608" r="2.15" fill="#FC4030"/><circle cx="109.6" cy="606.4" r="2.15" fill="#FC4030"/><circle cx="159" cy="617.8" r="2.15" fill="#FC4030"/><circle cx="120.7" cy="642.1" r="2.15" fill="#FC4030"/><circle cx="121.6" cy="645.3" r="2.15" fill="#FC4030"/><circle cx="154.8" cy="658.3" r="2.15" fill="#FC4030"/><circle cx="152.4" cy="527.1" r="2.15" fill="#FC4030"/><circle cx="157.3" cy="532" r="2.15" fill="#FC4030"/><circle cx="133" cy="549.9" r="2.15" fill="#FC4030"/><circle cx="155.7" cy="548.1" r="2.15" fill="#FC4030"/><circle cx="160.6" cy="553.7" r="2.15" fill="#FC4030"/><circle cx="156.4" cy="568.3" r="2.15" fill="#FC4030"/><circle cx="239.5" cy="506" r="2.15" fill="#FC4030"/><circle cx="303.2" cy="510.7" r="2.15" fill="#FC4030"/><circle cx="276.6" cy="518.1" r="2.15" fill="#FC4030"/><circle cx="311.6" cy="518.1" r="2.15" fill="#FC4030"/><circle cx="314.6" cy="530.1" r="2.15" fill="#FC4030"/><circle cx="320.4" cy="533.3" r="2.15" fill="#FC4030"/><circle cx="275.8" cy="554.5" r="2.15" fill="#FC4030"/><circle cx="279" cy="559.4" r="2.15" fill="#FC4030"/><circle cx="266.9" cy="567.5" r="2.15" fill="#FC4030"/><circle cx="302.5" cy="589.4" r="2.15" fill="#FC4030"/><circle cx="247.2" cy="608.7" r="2.15" fill="#FC4030"/><circle cx="71.4" cy="503.5" r="2.15" fill="#0482FF"/><circle cx="109.5" cy="505" r="2.15" fill="#0482FF"/><circle cx="117.7" cy="517.2" r="2.15" fill="#0482FF"/><circle cx="86.9" cy="541.5" r="2.15" fill="#0482FF"/><circle cx="112" cy="549.8" r="2.15" fill="#0482FF"/><circle cx="113.1" cy="554.8" r="2.15" fill="#0482FF"/><circle cx="58.5" cy="573.3" r="2.15" fill="#0482FF"/><circle cx="121.7" cy="573.2" r="2.15" fill="#0482FF"/><circle cx="141.9" cy="578.7" r="2.15" fill="#0482FF"/><circle cx="162.9" cy="585.4" r="2.15" fill="#0482FF"/><circle cx="165.6" cy="588.8" r="2.15" fill="#0482FF"/><circle cx="157.1" cy="591.8" r="2.15" fill="#0482FF"/><circle cx="105.4" cy="601.7" r="2.15" fill="#0482FF"/><circle cx="117.7" cy="603.9" r="2.15" fill="#0482FF"/><circle cx="166.3" cy="604.2" r="2.15" fill="#0482FF"/><circle cx="137" cy="647.7" r="2.15" fill="#0482FF"/><circle cx="161.5" cy="530.3" r="2.15" fill="#0482FF"/><circle cx="155.7" cy="545.7" r="2.15" fill="#0482FF"/><circle cx="161.5" cy="547.2" r="2.15" fill="#0482FF"/><circle cx="131.4" cy="569.7" r="2.15" fill="#0482FF"/><circle cx="275" cy="498.5" r="2.15" fill="#0482FF"/><circle cx="267.7" cy="537.4" r="2.15" fill="#0482FF"/><circle cx="279.1" cy="548.1" r="2.15" fill="#0482FF"/><circle cx="289.7" cy="551.3" r="2.15" fill="#0482FF"/><circle cx="255.4" cy="576.5" r="2.15" fill="#0482FF"/><circle cx="270.1" cy="576.5" r="2.15" fill="#0482FF"/><circle cx="313.8" cy="576.5" r="2.15" fill="#0482FF"/><circle cx="270.1" cy="588.6" r="2.15" fill="#0482FF"/><circle cx="250.6" cy="597.5" r="2.15" fill="#0482FF"/><circle cx="244.9" cy="617.9" r="2.15" fill="#0482FF"/><circle cx="300.8" cy="632.3" r="2.15" fill="#0482FF"/><circle cx="301.6" cy="667.3" r="2.15" fill="#0482FF"/></g>
<clipPath id="c5"><rect x="45.5" y="490.5" width="287.8" height="185"/></clipPath>
<rect x="45.5" y="490.5" width="287.8" height="185" fill="none" stroke="#5a5a5a" stroke-width="1.3"/>
<line x1="42.3" y1="516.3" x2="45.5" y2="516.3" stroke="#5a5a5a" stroke-width="1.1"/>
<text transform="translate(38.9 522.3) scale(0.93 1)" font-size="14" text-anchor="end" fill="#1a1a1a">35</text>
<line x1="42.3" y1="568.9" x2="45.5" y2="568.9" stroke="#5a5a5a" stroke-width="1.1"/>
<text transform="translate(38.9 574.9) scale(0.93 1)" font-size="14" text-anchor="end" fill="#1a1a1a">30</text>
<line x1="42.3" y1="621.5" x2="45.5" y2="621.5" stroke="#5a5a5a" stroke-width="1.1"/>
<text transform="translate(38.9 627.5) scale(0.93 1)" font-size="14" text-anchor="end" fill="#1a1a1a">25</text>
<line x1="42.3" y1="674.1" x2="45.5" y2="674.1" stroke="#5a5a5a" stroke-width="1.1"/>
<text transform="translate(38.9 680.1) scale(0.93 1)" font-size="14" text-anchor="end" fill="#1a1a1a">20</text>
<line x1="90.5" y1="675.5" x2="90.5" y2="678.7" stroke="#5a5a5a" stroke-width="1.1"/>
<text transform="translate(93.5 690.95) rotate(-30) scale(0.93 1)" y="5" font-size="14" text-anchor="middle" fill="#1a1a1a">Jan</text>
<line x1="135.6" y1="675.5" x2="135.6" y2="678.7" stroke="#5a5a5a" stroke-width="1.1"/>
<text transform="translate(136.7 691.1) rotate(-30) scale(0.93 1)" y="5" font-size="14" text-anchor="middle" fill="#1a1a1a">Mar</text>
<line x1="181" y1="675.5" x2="181" y2="678.7" stroke="#5a5a5a" stroke-width="1.1"/>
<text transform="translate(182.1 691.9) rotate(-30) scale(0.93 1)" y="5" font-size="14" text-anchor="middle" fill="#1a1a1a">May</text>
<line x1="226.5" y1="675.5" x2="226.5" y2="678.7" stroke="#5a5a5a" stroke-width="1.1"/>
<text transform="translate(228.4 692.2) rotate(-30) scale(0.93 1)" y="5" font-size="14" text-anchor="middle" fill="#1a1a1a">Jul</text>
<line x1="271.7" y1="675.5" x2="271.7" y2="678.7" stroke="#5a5a5a" stroke-width="1.1"/>
<text transform="translate(274 691.2) rotate(-30) scale(0.93 1)" y="5" font-size="14" text-anchor="middle" fill="#1a1a1a">Sep</text>
<line x1="317" y1="675.5" x2="317" y2="678.7" stroke="#5a5a5a" stroke-width="1.1"/>
<text transform="translate(318.7 691.7) rotate(-30) scale(0.93 1)" y="5" font-size="14" text-anchor="middle" fill="#1a1a1a">Nov</text>
<text transform="translate(189.4 718.5) scale(0.944 1)" font-size="13" text-anchor="middle" fill="#151515">Month</text>
<text transform="translate(12 583) rotate(-90) scale(1.0 1)" font-size="13" text-anchor="middle" fill="#151515">Urea mmol/L</text>
<g clip-path="url(#c6)"><rect x="412" y="592" width="249" height="21.8" fill="#FF483A" fill-opacity="0.3" shape-rendering="crispEdges"/><path d="M412,590.5 C413.9,589.67 419.57,586.92 423.4,585.5 C427.23,584.08 431.12,582.98 435,582 C438.88,581.02 442.8,580.2 446.7,579.6 C450.6,579 454.5,578.62 458.4,578.4 C462.3,578.18 466.07,578.03 470.1,578.3 C474.13,578.57 477.6,578.62 482.6,580 C487.6,581.38 494.7,584.47 500.1,586.6 C505.5,588.73 511.27,591.18 515,592.8 C518.73,594.42 518.33,594.27 522.5,596.3 C526.67,598.33 534.15,602.38 540,605 C545.85,607.62 551.75,610 557.6,612 C563.45,614 569.27,615.82 575.1,617 C580.93,618.18 586.77,618.88 592.6,619.1 C598.43,619.32 604.7,618.9 610.1,618.3 C615.5,617.7 620.47,617.33 625,615.5 C629.53,613.67 633.18,610.13 637.3,607.3 C641.42,604.47 645.75,601.1 649.7,598.5 C653.65,595.9 659.12,592.83 661,591.7 L661,634 C659.12,634.72 653.65,636.53 649.7,638.3 C645.75,640.07 641.43,642.52 637.3,644.6 C633.17,646.68 629.43,648.1 624.9,650.8 C620.37,653.5 615.48,658.2 610.1,660.8 C604.72,663.4 598.43,665.62 592.6,666.4 C586.77,667.18 580.93,666.68 575.1,665.5 C569.27,664.32 563.45,661.78 557.6,659.3 C551.75,656.82 545.85,653.8 540,650.6 C534.15,647.4 526.67,643.03 522.5,640.1 C518.33,637.17 518.73,635.63 515,633 C511.27,630.37 505.5,626.92 500.1,624.3 C494.7,621.68 488.43,618.9 482.6,617.3 C476.77,615.7 470.93,614.85 465.1,614.7 C459.27,614.55 453.45,614.8 447.6,616.4 C441.75,618 435.93,621.52 430,624.3 C424.07,627.08 415,631.63 412,633.1 Z" fill="#008CFA" fill-opacity="0.3" shape-rendering="crispEdges"/><line x1="412" y1="602.55" x2="661" y2="602.55" stroke="#FF4C33" stroke-width="2.0" shape-rendering="crispEdges"/><path d="M412,612.4 C415,611.03 424.07,606.45 430,604.2 C435.93,601.95 442.05,600.22 447.6,598.9 C453.15,597.58 458.93,596.58 463.3,596.3 C467.67,596.02 469.12,596.33 473.8,597.2 C478.48,598.07 486.17,599.75 491.4,601.5 C496.63,603.25 500.02,605.37 505.2,607.7 C510.38,610.03 516.7,612.73 522.5,615.5 C528.3,618.27 534.15,621.37 540,624.3 C545.85,627.23 551.75,630.47 557.6,633.1 C563.45,635.73 569.27,638.5 575.1,640.1 C580.93,641.7 586.77,642.75 592.6,642.7 C598.43,642.65 604.72,641.25 610.1,639.8 C615.48,638.35 620.37,636.12 624.9,634 C629.43,631.88 633.17,629.48 637.3,627.1 C641.43,624.72 645.75,622.08 649.7,619.7 C653.65,617.32 659.12,613.95 661,612.8" fill="none" stroke="#158AF5" stroke-width="2.0" shape-rendering="crispEdges"/><circle cx="461.7" cy="546.5" r="2.15" fill="#FC4030"/><circle cx="459.3" cy="551.3" r="2.15" fill="#FC4030"/><circle cx="462.8" cy="552.8" r="2.15" fill="#FC4030"/><circle cx="460.3" cy="555.5" r="2.15" fill="#FC4030"/><circle cx="437.7" cy="558.6" r="2.15" fill="#FC4030"/><circle cx="426.9" cy="563.4" r="2.15" fill="#FC4030"/><circle cx="501.7" cy="552.8" r="2.15" fill="#FC4030"/><circle cx="463.5" cy="566.7" r="2.15" fill="#FC4030"/><circle cx="459.5" cy="577.2" r="2.15" fill="#FC4030"/><circle cx="465.2" cy="580.3" r="2.15" fill="#FC4030"/><circle cx="426.2" cy="606.6" r="2.15" fill="#FC4030"/><circle cx="432.7" cy="614.4" r="2.15" fill="#FC4030"/><circle cx="450.5" cy="610.4" r="2.15" fill="#FC4030"/><circle cx="460.3" cy="606.6" r="2.15" fill="#FC4030"/><circle cx="478.2" cy="604.8" r="2.15" fill="#FC4030"/><circle cx="487" cy="612.9" r="2.15" fill="#FC4030"/><circle cx="489.6" cy="619.4" r="2.15" fill="#FC4030"/><circle cx="499.8" cy="621.6" r="2.15" fill="#FC4030"/><circle cx="504.8" cy="620.2" r="2.15" fill="#FC4030"/><circle cx="506.6" cy="625.1" r="2.15" fill="#FC4030"/><circle cx="504" cy="604.2" r="2.15" fill="#FC4030"/><circle cx="451.2" cy="637.2" r="2.15" fill="#FC4030"/><circle cx="453" cy="644.6" r="2.15" fill="#FC4030"/><circle cx="459.5" cy="652.5" r="2.15" fill="#FC4030"/><circle cx="496.8" cy="636.5" r="2.15" fill="#FC4030"/><circle cx="493.6" cy="652.5" r="2.15" fill="#FC4030"/><circle cx="586.9" cy="556.1" r="2.15" fill="#FC4030"/><circle cx="611.9" cy="554.6" r="2.15" fill="#FC4030"/><circle cx="607.8" cy="592.6" r="2.15" fill="#FC4030"/><circle cx="594.9" cy="614.4" r="2.15" fill="#FC4030"/><circle cx="613.5" cy="633.4" r="2.15" fill="#FC4030"/><circle cx="622.5" cy="653.3" r="2.15" fill="#FC4030"/><circle cx="638.9" cy="610.4" r="2.15" fill="#FC4030"/><circle cx="654.1" cy="631.7" r="2.15" fill="#FC4030"/><circle cx="669.9" cy="637.4" r="2.15" fill="#FC4030"/><circle cx="663.2" cy="646.1" r="2.15" fill="#FC4030"/><circle cx="635.1" cy="648.7" r="2.15" fill="#FC4030"/><circle cx="499.2" cy="498.5" r="2.15" fill="#0482FF"/><circle cx="450.5" cy="537.4" r="2.15" fill="#0482FF"/><circle cx="453" cy="540.9" r="2.15" fill="#0482FF"/><circle cx="453.5" cy="578.1" r="2.15" fill="#0482FF"/><circle cx="460.2" cy="579.5" r="2.15" fill="#0482FF"/><circle cx="408.5" cy="612.2" r="2.15" fill="#0482FF"/><circle cx="415.7" cy="598.3" r="2.15" fill="#0482FF"/><circle cx="427.8" cy="592.7" r="2.15" fill="#0482FF"/><circle cx="455.4" cy="592.5" r="2.15" fill="#0482FF"/><circle cx="473.3" cy="640.6" r="2.15" fill="#0482FF"/><circle cx="488.9" cy="637.2" r="2.15" fill="#0482FF"/><circle cx="502.2" cy="623.4" r="2.15" fill="#0482FF"/><circle cx="509.3" cy="618.7" r="2.15" fill="#0482FF"/><circle cx="512.2" cy="619.4" r="2.15" fill="#0482FF"/><circle cx="506.6" cy="652.6" r="2.15" fill="#0482FF"/><circle cx="508.4" cy="654.4" r="2.15" fill="#0482FF"/><circle cx="609.6" cy="596.1" r="2.15" fill="#0482FF"/><circle cx="602.3" cy="624.3" r="2.15" fill="#0482FF"/><circle cx="615.9" cy="631.5" r="2.15" fill="#0482FF"/><circle cx="624" cy="632.3" r="2.15" fill="#0482FF"/><circle cx="596.6" cy="646.2" r="2.15" fill="#0482FF"/><circle cx="617" cy="647.8" r="2.15" fill="#0482FF"/><circle cx="599.8" cy="665.4" r="2.15" fill="#0482FF"/><circle cx="620.1" cy="666.3" r="2.15" fill="#0482FF"/><circle cx="637.1" cy="636.3" r="2.15" fill="#0482FF"/><circle cx="633" cy="646.1" r="2.15" fill="#0482FF"/><circle cx="639.8" cy="651.1" r="2.15" fill="#0482FF"/><circle cx="653.2" cy="647" r="2.15" fill="#0482FF"/><circle cx="452.3" cy="579.6" r="2.15" fill="#0482FF"/></g>
<clipPath id="c6"><rect x="395.5" y="490.3" width="287.7" height="185.3"/></clipPath>
<rect x="395.5" y="490.3" width="287.7" height="185.3" fill="none" stroke="#5a5a5a" stroke-width="1.3"/>
<line x1="392.3" y1="541.2" x2="395.5" y2="541.2" stroke="#5a5a5a" stroke-width="1.1"/>
<text transform="translate(388.9 547.2) scale(0.93 1)" font-size="14" text-anchor="end" fill="#1a1a1a">60</text>
<line x1="392.3" y1="595.3" x2="395.5" y2="595.3" stroke="#5a5a5a" stroke-width="1.1"/>
<text transform="translate(388.9 601.3) scale(0.93 1)" font-size="14" text-anchor="end" fill="#1a1a1a">40</text>
<line x1="392.3" y1="649.2" x2="395.5" y2="649.2" stroke="#5a5a5a" stroke-width="1.1"/>
<text transform="translate(388.9 655.2) scale(0.93 1)" font-size="14" text-anchor="end" fill="#1a1a1a">20</text>
<line x1="434.4" y1="675.6" x2="434.4" y2="678.8" stroke="#5a5a5a" stroke-width="1.1"/>
<text transform="translate(437.4 691.05) rotate(-30) scale(0.93 1)" y="5" font-size="14" text-anchor="middle" fill="#1a1a1a">Jan</text>
<line x1="480" y1="675.6" x2="480" y2="678.8" stroke="#5a5a5a" stroke-width="1.1"/>
<text transform="translate(481.1 691.2) rotate(-30) scale(0.93 1)" y="5" font-size="14" text-anchor="middle" fill="#1a1a1a">Mar</text>
<line x1="525.6" y1="675.6" x2="525.6" y2="678.8" stroke="#5a5a5a" stroke-width="1.1"/>
<text transform="translate(526.7 692) rotate(-30) scale(0.93 1)" y="5" font-size="14" text-anchor="middle" fill="#1a1a1a">May</text>
<line x1="570.7" y1="675.6" x2="570.7" y2="678.8" stroke="#5a5a5a" stroke-width="1.1"/>
<text transform="translate(572.6 692.3) rotate(-30) scale(0.93 1)" y="5" font-size="14" text-anchor="middle" fill="#1a1a1a">Jul</text>
<line x1="615.9" y1="675.6" x2="615.9" y2="678.8" stroke="#5a5a5a" stroke-width="1.1"/>
<text transform="translate(618.2 691.3) rotate(-30) scale(0.93 1)" y="5" font-size="14" text-anchor="middle" fill="#1a1a1a">Sep</text>
<line x1="661.3" y1="675.6" x2="661.3" y2="678.8" stroke="#5a5a5a" stroke-width="1.1"/>
<text transform="translate(663 691.8) rotate(-30) scale(0.93 1)" y="5" font-size="14" text-anchor="middle" fill="#1a1a1a">Nov</text>
<text transform="translate(539.35 718.6) scale(0.944 1)" font-size="13" text-anchor="middle" fill="#151515">Month</text>
<text transform="translate(365.3 582.95) rotate(-90) scale(1.0 1)" font-size="13" text-anchor="middle" fill="#151515">Creatinine ummol/L</text>
<g clip-path="url(#c7)"><path d="M51.7,820 C53.8,820.52 59.28,821.55 64.3,823.1 C69.32,824.65 75.97,827.25 81.8,829.3 C87.63,831.35 93.47,833.65 99.3,835.4 C105.13,837.15 110.95,838.78 116.8,839.8 C122.65,840.82 128.87,841.12 134.4,841.5 C139.93,841.88 144.48,842.23 150,842.1 C155.52,841.97 161.67,841.52 167.5,840.7 C173.33,839.88 179.15,838.52 185,837.2 C190.85,835.88 196.75,834.27 202.6,832.8 C208.45,831.33 214.27,829.78 220.1,828.4 C225.93,827.02 231.77,825.57 237.6,824.5 C243.43,823.43 249.67,822.63 255.1,822 C260.53,821.37 264.32,821.2 270.2,820.7 C276.08,820.2 283.33,819.3 290.4,819 C297.47,818.7 308.9,818.92 312.6,818.9 L312.6,850.5 C309.58,850.68 301.17,850.55 294.5,851.6 C287.83,852.65 278.08,855.2 272.6,856.8 C267.12,858.4 265.25,859.92 261.6,861.2 C257.95,862.48 254.7,863.45 250.7,864.5 C246.7,865.55 242.7,866.22 237.6,867.5 C232.5,868.78 225.93,871.03 220.1,872.2 C214.27,873.37 208.45,874.07 202.6,874.5 C196.75,874.93 190.85,874.88 185,874.8 C179.15,874.72 173.33,874.43 167.5,874 C161.67,873.57 155.52,872.93 150,872.2 C144.48,871.47 139.93,870.77 134.4,869.6 C128.87,868.43 122.65,866.67 116.8,865.2 C110.95,863.73 105.13,862.27 99.3,860.8 C93.47,859.33 87.63,857.57 81.8,856.4 C75.97,855.23 69.32,854.38 64.3,853.8 C59.28,853.22 53.8,853.05 51.7,852.9 Z" fill="#FF483A" fill-opacity="0.3" shape-rendering="crispEdges"/><path d="M51.7,829.8 C53.8,830 59.28,829.92 64.3,831 C69.32,832.08 75.97,833.97 81.8,836.3 C87.63,838.63 93.47,842.23 99.3,845 C105.13,847.77 110.95,850.55 116.8,852.9 C122.65,855.25 128.87,857.63 134.4,859.1 C139.93,860.57 144.48,860.98 150,861.7 C155.52,862.42 161.67,863.12 167.5,863.4 C173.33,863.68 179.15,863.53 185,863.4 C190.85,863.27 196.75,863.03 202.6,862.6 C208.45,862.17 214.27,861.68 220.1,860.8 C225.93,859.92 232.62,858.18 237.6,857.3 C242.58,856.42 247.08,856.23 250,855.5 C252.92,854.77 251.73,853.95 255.1,852.9 C258.47,851.85 264.32,851.5 270.2,849.2 C276.08,846.9 285.02,841.97 290.4,839.1 C295.78,836.23 298.8,833.52 302.5,832 C306.2,830.48 310.92,830.33 312.6,830 L312.6,870.4 C309.58,870.68 299.35,871.45 294.5,872.1 C289.65,872.75 287.15,872.83 283.5,874.3 C279.85,875.77 276.25,878.45 272.6,880.9 C268.95,883.35 265.25,886.63 261.6,889 C257.95,891.37 254.7,893.35 250.7,895.1 C246.7,896.85 242.7,897.03 237.6,899.5 C232.5,901.97 225.93,907.93 220.1,909.9 C214.27,911.87 208.45,911.3 202.6,911.3 C196.75,911.3 190.85,910.87 185,909.9 C179.15,908.93 173.33,906.97 167.5,905.5 C161.67,904.03 155.52,902.85 150,901.1 C144.48,899.35 139.93,897.33 134.4,895 C128.87,892.67 122.65,889.58 116.8,887.1 C110.95,884.62 105.13,882.28 99.3,880.1 C93.47,877.92 87.63,875.62 81.8,874 C75.97,872.38 69.32,871.13 64.3,870.4 C59.28,869.67 53.8,869.73 51.7,869.6 Z" fill="#008CFA" fill-opacity="0.3" shape-rendering="crispEdges"/><path d="M51.7,835.9 C53.8,836.25 59.28,836.92 64.3,838 C69.32,839.08 75.97,840.78 81.8,842.4 C87.63,844.02 93.47,845.95 99.3,847.7 C105.13,849.45 110.95,851.5 116.8,852.9 C122.65,854.3 128.87,855.37 134.4,856.1 C139.93,856.83 144.48,857.1 150,857.3 C155.52,857.5 161.67,857.58 167.5,857.3 C173.33,857.02 179.15,856.33 185,855.6 C190.85,854.87 196.75,853.93 202.6,852.9 C208.45,851.87 214.27,850.57 220.1,849.4 C225.93,848.23 232.62,846.88 237.6,845.9 C242.58,844.92 247.08,844.13 250,843.5 C252.92,842.87 251.73,842.97 255.1,842.1 C258.47,841.23 264.32,839.47 270.2,838.3 C276.08,837.13 285.02,835.7 290.4,835.1 C295.78,834.5 298.8,834.53 302.5,834.7 C306.2,834.87 310.92,835.87 312.6,836.1" fill="none" stroke="#FF4C33" stroke-width="2.0" shape-rendering="crispEdges"/><path d="M51.7,850 C53.8,850.05 59.28,849.52 64.3,850.3 C69.32,851.08 75.97,852.65 81.8,854.7 C87.63,856.75 93.47,860.12 99.3,862.6 C105.13,865.08 110.95,867.42 116.8,869.6 C122.65,871.78 128.87,873.95 134.4,875.7 C139.93,877.45 144.48,878.78 150,880.1 C155.52,881.42 161.67,882.52 167.5,883.6 C173.33,884.68 179.15,886.02 185,886.6 C190.85,887.18 196.75,887.25 202.6,887.1 C208.45,886.95 213.92,886.73 220.1,885.7 C226.28,884.67 234.6,882.25 239.7,880.9 C244.8,879.55 247.05,879.07 250.7,877.6 C254.35,876.13 257.95,874.1 261.6,872.1 C265.25,870.1 268.95,867.6 272.6,865.6 C276.25,863.6 279.85,861.75 283.5,860.1 C287.15,858.45 290.48,857.17 294.5,855.7 C298.52,854.23 304.58,852.1 307.6,851.3 C310.62,850.5 311.77,850.97 312.6,850.9" fill="none" stroke="#158AF5" stroke-width="2.0" shape-rendering="crispEdges"/><circle cx="75.5" cy="743.4" r="2.15" fill="#FC4030"/><circle cx="94.9" cy="792" r="2.15" fill="#FC4030"/><circle cx="103.8" cy="803.3" r="2.15" fill="#FC4030"/><circle cx="149.2" cy="797.7" r="2.15" fill="#FC4030"/><circle cx="76.2" cy="830.1" r="2.15" fill="#FC4030"/><circle cx="94.9" cy="836.8" r="2.15" fill="#FC4030"/><circle cx="100.5" cy="840.6" r="2.15" fill="#FC4030"/><circle cx="107.2" cy="836.8" r="2.15" fill="#FC4030"/><circle cx="137.9" cy="838.9" r="2.15" fill="#FC4030"/><circle cx="128.8" cy="849.5" r="2.15" fill="#FC4030"/><circle cx="105.4" cy="849.7" r="2.15" fill="#FC4030"/><circle cx="106.3" cy="852.3" r="2.15" fill="#FC4030"/><circle cx="108.1" cy="853.7" r="2.15" fill="#FC4030"/><circle cx="108.6" cy="856.7" r="2.15" fill="#FC4030"/><circle cx="65.7" cy="857.6" r="2.15" fill="#FC4030"/><circle cx="73.9" cy="860.2" r="2.15" fill="#FC4030"/><circle cx="89.9" cy="859.4" r="2.15" fill="#FC4030"/><circle cx="141.9" cy="857.6" r="2.15" fill="#FC4030"/><circle cx="145.2" cy="862.5" r="2.15" fill="#FC4030"/><circle cx="150.5" cy="864.2" r="2.15" fill="#FC4030"/><circle cx="94.9" cy="869.9" r="2.15" fill="#FC4030"/><circle cx="102.8" cy="876.3" r="2.15" fill="#FC4030"/><circle cx="94.9" cy="879.7" r="2.15" fill="#FC4030"/><circle cx="123.3" cy="882.1" r="2.15" fill="#FC4030"/><circle cx="143.1" cy="886.5" r="2.15" fill="#FC4030"/><circle cx="144" cy="885.6" r="2.15" fill="#FC4030"/><circle cx="138.7" cy="899.1" r="2.15" fill="#FC4030"/><circle cx="127.3" cy="902.3" r="2.15" fill="#FC4030"/><circle cx="245.5" cy="843.6" r="2.15" fill="#FC4030"/><circle cx="261.2" cy="842.4" r="2.15" fill="#FC4030"/><circle cx="244.8" cy="868.1" r="2.15" fill="#FC4030"/><circle cx="265.2" cy="888.3" r="2.15" fill="#FC4030"/><circle cx="268.6" cy="878.7" r="2.15" fill="#FC4030"/><circle cx="272.2" cy="743.4" r="2.15" fill="#FC4030"/><circle cx="296.1" cy="778.2" r="2.15" fill="#FC4030"/><circle cx="318.7" cy="832.5" r="2.15" fill="#FC4030"/><circle cx="319.7" cy="841.4" r="2.15" fill="#FC4030"/><circle cx="292.8" cy="851.1" r="2.15" fill="#FC4030"/><circle cx="302.9" cy="882.9" r="2.15" fill="#FC4030"/><circle cx="70.6" cy="761.2" r="2.15" fill="#0482FF"/><circle cx="92.5" cy="817.2" r="2.15" fill="#0482FF"/><circle cx="56.8" cy="822.2" r="2.15" fill="#0482FF"/><circle cx="150.1" cy="817.2" r="2.15" fill="#0482FF"/><circle cx="54.3" cy="836.6" r="2.15" fill="#0482FF"/><circle cx="96.9" cy="847.1" r="2.15" fill="#0482FF"/><circle cx="101.4" cy="856.2" r="2.15" fill="#0482FF"/><circle cx="126" cy="866.5" r="2.15" fill="#0482FF"/><circle cx="127.3" cy="874.2" r="2.15" fill="#0482FF"/><circle cx="100.5" cy="872.1" r="2.15" fill="#0482FF"/><circle cx="151" cy="874.8" r="2.15" fill="#0482FF"/><circle cx="93.4" cy="882.7" r="2.15" fill="#0482FF"/><circle cx="93.2" cy="889.3" r="2.15" fill="#0482FF"/><circle cx="98.3" cy="888.4" r="2.15" fill="#0482FF"/><circle cx="119.1" cy="885.3" r="2.15" fill="#0482FF"/><circle cx="140.5" cy="890.9" r="2.15" fill="#0482FF"/><circle cx="144.3" cy="890.9" r="2.15" fill="#0482FF"/><circle cx="153.3" cy="893.2" r="2.15" fill="#0482FF"/><circle cx="153.3" cy="897.9" r="2.15" fill="#0482FF"/><circle cx="142.8" cy="907.9" r="2.15" fill="#0482FF"/><circle cx="232.9" cy="889.3" r="2.15" fill="#0482FF"/><circle cx="241.5" cy="882.1" r="2.15" fill="#0482FF"/><circle cx="249" cy="879.7" r="2.15" fill="#0482FF"/><circle cx="265" cy="881.8" r="2.15" fill="#0482FF"/><circle cx="266.3" cy="880.8" r="2.15" fill="#0482FF"/><circle cx="269.1" cy="860.2" r="2.15" fill="#0482FF"/><circle cx="274.2" cy="834.4" r="2.15" fill="#0482FF"/><circle cx="271.8" cy="870.7" r="2.15" fill="#0482FF"/><circle cx="283.9" cy="870.3" r="2.15" fill="#0482FF"/><circle cx="286.4" cy="874.2" r="2.15" fill="#0482FF"/><circle cx="307.6" cy="882.9" r="2.15" fill="#0482FF"/><circle cx="290.4" cy="887.5" r="2.15" fill="#0482FF"/></g>
<clipPath id="c7"><rect x="38.5" y="734.2" width="295" height="185.5"/></clipPath>
<rect x="38.5" y="734.2" width="295" height="185.5" fill="none" stroke="#5a5a5a" stroke-width="1.3"/>
<line x1="35.3" y1="748.2" x2="38.5" y2="748.2" stroke="#5a5a5a" stroke-width="1.1"/>
<text transform="translate(31.9 754.2) scale(0.93 1)" font-size="14" text-anchor="end" fill="#1a1a1a">3</text>
<line x1="35.3" y1="811.2" x2="38.5" y2="811.2" stroke="#5a5a5a" stroke-width="1.1"/>
<text transform="translate(31.9 817.2) scale(0.93 1)" font-size="14" text-anchor="end" fill="#1a1a1a">2</text>
<line x1="35.3" y1="874.2" x2="38.5" y2="874.2" stroke="#5a5a5a" stroke-width="1.1"/>
<text transform="translate(31.9 880.2) scale(0.93 1)" font-size="14" text-anchor="end" fill="#1a1a1a">1</text>
<line x1="75.3" y1="919.7" x2="75.3" y2="922.9" stroke="#5a5a5a" stroke-width="1.1"/>
<text transform="translate(78.3 935.15) rotate(-30) scale(0.93 1)" y="5" font-size="14" text-anchor="middle" fill="#1a1a1a">Jan</text>
<line x1="123.5" y1="919.7" x2="123.5" y2="922.9" stroke="#5a5a5a" stroke-width="1.1"/>
<text transform="translate(124.6 935.3) rotate(-30) scale(0.93 1)" y="5" font-size="14" text-anchor="middle" fill="#1a1a1a">Mar</text>
<line x1="170.5" y1="919.7" x2="170.5" y2="922.9" stroke="#5a5a5a" stroke-width="1.1"/>
<text transform="translate(171.6 936.1) rotate(-30) scale(0.93 1)" y="5" font-size="14" text-anchor="middle" fill="#1a1a1a">May</text>
<line x1="218.3" y1="919.7" x2="218.3" y2="922.9" stroke="#5a5a5a" stroke-width="1.1"/>
<text transform="translate(220.2 936.4) rotate(-30) scale(0.93 1)" y="5" font-size="14" text-anchor="middle" fill="#1a1a1a">Jul</text>
<line x1="266.1" y1="919.7" x2="266.1" y2="922.9" stroke="#5a5a5a" stroke-width="1.1"/>
<text transform="translate(268.4 935.4) rotate(-30) scale(0.93 1)" y="5" font-size="14" text-anchor="middle" fill="#1a1a1a">Sep</text>
<line x1="313" y1="919.7" x2="313" y2="922.9" stroke="#5a5a5a" stroke-width="1.1"/>
<text transform="translate(314.7 935.9) rotate(-30) scale(0.93 1)" y="5" font-size="14" text-anchor="middle" fill="#1a1a1a">Nov</text>
<text transform="translate(186 962.7) scale(0.944 1)" font-size="13" text-anchor="middle" fill="#151515">Month</text>
<text transform="translate(12 826.95) rotate(-90) scale(1.0 1)" font-size="13" text-anchor="middle" fill="#151515">Triglycerides mmol/L</text>
<g clip-path="url(#c8)"><path d="M403.2,809 C405.58,809.88 412.2,812.4 417.5,814.3 C422.8,816.2 429.15,818.95 435,820.4 C440.85,821.85 446.75,822.5 452.6,823 C458.45,823.5 464.27,823.68 470.1,823.4 C475.93,823.12 481.77,822.37 487.6,821.3 C493.43,820.23 499.28,818.5 505.1,817 C510.92,815.5 516.68,813.95 522.5,812.3 C528.32,810.65 534.15,809.13 540,807.1 C545.85,805.07 551.75,801.92 557.6,800.1 C563.45,798.28 569.27,797.13 575.1,796.2 C580.93,795.27 586.77,794.65 592.6,794.5 C598.43,794.35 604.7,794.8 610.1,795.3 C615.5,795.8 619.95,796.43 625,797.5 C630.05,798.57 634.23,799.98 640.4,801.7 C646.57,803.42 658.4,806.78 662,807.8 L662,844.2 C658.4,843.85 647.37,842.78 640.4,842.1 C633.43,841.42 626.7,840.38 620.2,840.1 C613.7,839.82 607.47,839.92 601.4,840.4 C595.33,840.88 589.65,841.98 583.8,843 C577.95,844.02 572.13,845.33 566.3,846.5 C560.47,847.67 556.1,849.08 548.8,850 C541.5,850.92 529.78,851.62 522.5,852 C515.22,852.38 510.92,851.87 505.1,852.3 C499.28,852.73 493.43,854.08 487.6,854.6 C481.77,855.12 475.93,855.4 470.1,855.4 C464.27,855.4 458.45,855.03 452.6,854.6 C446.75,854.17 440.85,853.68 435,852.8 C429.15,851.92 422.8,850.55 417.5,849.3 C412.2,848.05 405.58,845.97 403.2,845.3 Z" fill="#FF483A" fill-opacity="0.3" shape-rendering="crispEdges"/><path d="M403.2,798.9 C405.58,800.3 412.2,804.3 417.5,807.3 C422.8,810.3 431.2,814.72 435,816.9 C438.8,819.08 437.37,818.35 440.3,820.4 C443.23,822.45 447.63,827.15 452.6,829.2 C457.57,831.25 464.27,832.27 470.1,832.7 C475.93,833.13 481.77,832.68 487.6,831.8 C493.43,830.92 499.7,828.87 505.1,827.4 C510.5,825.93 513.6,826.68 520,823 C526.4,819.32 537.23,809.85 543.5,805.3 C549.77,800.75 552.33,798.62 557.6,795.7 C562.87,792.78 569.27,789.7 575.1,787.8 C580.93,785.9 586.77,784.77 592.6,784.3 C598.43,783.83 604.7,784.5 610.1,785 C615.5,785.5 619.95,786.2 625,787.3 C630.05,788.4 634.23,789.77 640.4,791.6 C646.57,793.43 658.4,797.18 662,798.3 L662,837.1 C658.4,835.42 647.37,829.25 640.4,827 C633.43,824.75 625.25,824 620.2,823.6 C615.15,823.2 613.23,823.98 610.1,824.6 C606.97,825.22 605.78,825.68 601.4,827.3 C597.02,828.92 589.65,831.97 583.8,834.3 C577.95,836.63 572.13,838.97 566.3,841.3 C560.47,843.63 553.15,846.67 548.8,848.3 C544.45,849.93 544.78,849.62 540.2,851.1 C535.62,852.58 528.15,854.78 521.3,857.2 C514.45,859.62 506.5,863.65 499.1,865.6 C491.7,867.55 484.3,869.1 476.9,868.9 C469.5,868.7 462.12,866.82 454.7,864.4 C447.28,861.98 439.07,857.38 432.4,854.4 C425.73,851.42 419.57,849.02 414.7,846.5 C409.83,843.98 405.12,840.5 403.2,839.3 Z" fill="#008CFA" fill-opacity="0.3" shape-rendering="crispEdges"/><path d="M403.2,826.6 C405.58,827.17 412.2,828.7 417.5,830 C422.8,831.3 429.15,833.08 435,834.4 C440.85,835.72 446.75,837.12 452.6,837.9 C458.45,838.68 464.27,839.1 470.1,839.1 C475.93,839.1 481.77,838.48 487.6,837.9 C493.43,837.32 499.28,836.65 505.1,835.6 C510.92,834.55 516.68,832.93 522.5,831.6 C528.32,830.27 534.15,828.83 540,827.6 C545.85,826.37 551.75,825.35 557.6,824.2 C563.45,823.05 569.27,821.63 575.1,820.7 C580.93,819.77 587.63,819.03 592.6,818.6 C597.57,818.17 600.3,818.05 604.9,818.1 C609.5,818.15 614.28,818.27 620.2,818.9 C626.12,819.53 633.43,820.62 640.4,821.9 C647.37,823.18 658.4,825.82 662,826.6" fill="none" stroke="#FF4C33" stroke-width="2.0" shape-rendering="crispEdges"/><path d="M403.2,819.3 C406.13,820.45 416.03,823.97 420.8,826.2 C425.57,828.43 428.15,830.52 431.8,832.7 C435.45,834.88 439.05,837.28 442.7,839.3 C446.35,841.32 450.05,843.17 453.7,844.8 C457.35,846.43 460.95,848.05 464.6,849.1 C468.25,850.15 471.95,850.88 475.6,851.1 C479.25,851.32 482.85,850.92 486.5,850.4 C490.15,849.88 493.85,848.88 497.5,848 C501.15,847.12 504.75,846.33 508.4,845.1 C512.05,843.87 514.13,843.22 519.4,840.6 C524.67,837.98 533.63,832.87 540,829.4 C546.37,825.93 551.75,822.93 557.6,819.8 C563.45,816.67 569.27,812.95 575.1,810.6 C580.93,808.25 587.35,806.68 592.6,805.7 C597.85,804.72 602,804.78 606.6,804.7 C611.2,804.62 614.57,804.35 620.2,805.2 C625.83,806.05 633.43,807.52 640.4,809.8 C647.37,812.08 658.4,817.38 662,818.9" fill="none" stroke="#158AF5" stroke-width="2.0" shape-rendering="crispEdges"/><circle cx="457.9" cy="743.4" r="2.15" fill="#FC4030"/><circle cx="441.8" cy="756.6" r="2.15" fill="#FC4030"/><circle cx="435.1" cy="780.1" r="2.15" fill="#FC4030"/><circle cx="441.8" cy="790.6" r="2.15" fill="#FC4030"/><circle cx="448.1" cy="814.9" r="2.15" fill="#FC4030"/><circle cx="433.6" cy="822.8" r="2.15" fill="#FC4030"/><circle cx="493.6" cy="802.6" r="2.15" fill="#FC4030"/><circle cx="495.9" cy="825.4" r="2.15" fill="#FC4030"/><circle cx="443.2" cy="830" r="2.15" fill="#FC4030"/><circle cx="504.9" cy="838.2" r="2.15" fill="#FC4030"/><circle cx="445.7" cy="850.4" r="2.15" fill="#FC4030"/><circle cx="475.8" cy="855.4" r="2.15" fill="#FC4030"/><circle cx="432.8" cy="857.8" r="2.15" fill="#FC4030"/><circle cx="422.2" cy="864.3" r="2.15" fill="#FC4030"/><circle cx="448.2" cy="862.6" r="2.15" fill="#FC4030"/><circle cx="449.9" cy="861.9" r="2.15" fill="#FC4030"/><circle cx="444.1" cy="867.2" r="2.15" fill="#FC4030"/><circle cx="458.9" cy="867.2" r="2.15" fill="#FC4030"/><circle cx="489.6" cy="876.3" r="2.15" fill="#FC4030"/><circle cx="498.5" cy="874.7" r="2.15" fill="#FC4030"/><circle cx="505.1" cy="871.5" r="2.15" fill="#FC4030"/><circle cx="453.2" cy="899.9" r="2.15" fill="#FC4030"/><circle cx="478.9" cy="898.3" r="2.15" fill="#FC4030"/><circle cx="606.4" cy="745.2" r="2.15" fill="#FC4030"/><circle cx="596.6" cy="783" r="2.15" fill="#FC4030"/><circle cx="610.4" cy="785.5" r="2.15" fill="#FC4030"/><circle cx="613.6" cy="839" r="2.15" fill="#FC4030"/><circle cx="618.5" cy="857.7" r="2.15" fill="#FC4030"/><circle cx="647.9" cy="794.6" r="2.15" fill="#FC4030"/><circle cx="666.3" cy="812.1" r="2.15" fill="#FC4030"/><circle cx="663.2" cy="827.7" r="2.15" fill="#FC4030"/><circle cx="657.6" cy="831.7" r="2.15" fill="#FC4030"/><circle cx="641.2" cy="866.5" r="2.15" fill="#FC4030"/><circle cx="441.8" cy="781.6" r="2.15" fill="#0482FF"/><circle cx="401.2" cy="814.8" r="2.15" fill="#0482FF"/><circle cx="418.9" cy="821.2" r="2.15" fill="#0482FF"/><circle cx="501.8" cy="812.3" r="2.15" fill="#0482FF"/><circle cx="505.5" cy="829.1" r="2.15" fill="#0482FF"/><circle cx="503.2" cy="832.6" r="2.15" fill="#0482FF"/><circle cx="457.8" cy="832.4" r="2.15" fill="#0482FF"/><circle cx="475.8" cy="838.2" r="2.15" fill="#0482FF"/><circle cx="467.7" cy="853.6" r="2.15" fill="#0482FF"/><circle cx="451.4" cy="857.8" r="2.15" fill="#0482FF"/><circle cx="459.6" cy="858.4" r="2.15" fill="#0482FF"/><circle cx="406.1" cy="859.4" r="2.15" fill="#0482FF"/><circle cx="495.2" cy="861.8" r="2.15" fill="#0482FF"/><circle cx="495.2" cy="866" r="2.15" fill="#0482FF"/><circle cx="457.8" cy="870.7" r="2.15" fill="#0482FF"/><circle cx="448.3" cy="873.8" r="2.15" fill="#0482FF"/><circle cx="491.9" cy="872.4" r="2.15" fill="#0482FF"/><circle cx="506.3" cy="870.8" r="2.15" fill="#0482FF"/><circle cx="472.6" cy="880.5" r="2.15" fill="#0482FF"/><circle cx="494.3" cy="912" r="2.15" fill="#0482FF"/><circle cx="505.9" cy="829.3" r="2.15" fill="#0482FF"/><circle cx="622.5" cy="747.5" r="2.15" fill="#0482FF"/><circle cx="611.2" cy="764.5" r="2.15" fill="#0482FF"/><circle cx="615.3" cy="764.5" r="2.15" fill="#0482FF"/><circle cx="618.5" cy="773.2" r="2.15" fill="#0482FF"/><circle cx="622.5" cy="777.3" r="2.15" fill="#0482FF"/><circle cx="596.6" cy="794.4" r="2.15" fill="#0482FF"/><circle cx="615.2" cy="793.5" r="2.15" fill="#0482FF"/><circle cx="598.4" cy="819.6" r="2.15" fill="#0482FF"/><circle cx="615.9" cy="833.3" r="2.15" fill="#0482FF"/><circle cx="586.8" cy="880.5" r="2.15" fill="#0482FF"/><circle cx="662.2" cy="777.4" r="2.15" fill="#0482FF"/><circle cx="669.7" cy="796" r="2.15" fill="#0482FF"/><circle cx="636.4" cy="821.2" r="2.15" fill="#0482FF"/><circle cx="646.9" cy="829.3" r="2.15" fill="#0482FF"/><circle cx="616.2" cy="833.4" r="2.15" fill="#0482FF"/><circle cx="639.6" cy="880.2" r="2.15" fill="#0482FF"/></g>
<clipPath id="c8"><rect x="388.6" y="734.4" width="294.8" height="185.4"/></clipPath>
<rect x="388.6" y="734.4" width="294.8" height="185.4" fill="none" stroke="#5a5a5a" stroke-width="1.3"/>
<line x1="385.4" y1="748.8" x2="388.6" y2="748.8" stroke="#5a5a5a" stroke-width="1.1"/>
<text transform="translate(382 754.8) scale(0.93 1)" font-size="14" text-anchor="end" fill="#1a1a1a">5</text>
<line x1="385.4" y1="787.5" x2="388.6" y2="787.5" stroke="#5a5a5a" stroke-width="1.1"/>
<text transform="translate(382 793.5) scale(0.93 1)" font-size="14" text-anchor="end" fill="#1a1a1a">4</text>
<line x1="385.4" y1="826.2" x2="388.6" y2="826.2" stroke="#5a5a5a" stroke-width="1.1"/>
<text transform="translate(382 832.2) scale(0.93 1)" font-size="14" text-anchor="end" fill="#1a1a1a">3</text>
<line x1="385.4" y1="864.8" x2="388.6" y2="864.8" stroke="#5a5a5a" stroke-width="1.1"/>
<text transform="translate(382 870.8) scale(0.93 1)" font-size="14" text-anchor="end" fill="#1a1a1a">2</text>
<line x1="385.4" y1="903.4" x2="388.6" y2="903.4" stroke="#5a5a5a" stroke-width="1.1"/>
<text transform="translate(382 909.4) scale(0.93 1)" font-size="14" text-anchor="end" fill="#1a1a1a">1</text>
<line x1="427.4" y1="919.8" x2="427.4" y2="923" stroke="#5a5a5a" stroke-width="1.1"/>
<text transform="translate(430.4 935.25) rotate(-30) scale(0.93 1)" y="5" font-size="14" text-anchor="middle" fill="#1a1a1a">Jan</text>
<line x1="474.2" y1="919.8" x2="474.2" y2="923" stroke="#5a5a5a" stroke-width="1.1"/>
<text transform="translate(475.3 935.4) rotate(-30) scale(0.93 1)" y="5" font-size="14" text-anchor="middle" fill="#1a1a1a">Mar</text>
<line x1="521.3" y1="919.8" x2="521.3" y2="923" stroke="#5a5a5a" stroke-width="1.1"/>
<text transform="translate(522.4 936.2) rotate(-30) scale(0.93 1)" y="5" font-size="14" text-anchor="middle" fill="#1a1a1a">May</text>
<line x1="568.4" y1="919.8" x2="568.4" y2="923" stroke="#5a5a5a" stroke-width="1.1"/>
<text transform="translate(570.3 936.5) rotate(-30) scale(0.93 1)" y="5" font-size="14" text-anchor="middle" fill="#1a1a1a">Jul</text>
<line x1="615.4" y1="919.8" x2="615.4" y2="923" stroke="#5a5a5a" stroke-width="1.1"/>
<text transform="translate(617.7 935.5) rotate(-30) scale(0.93 1)" y="5" font-size="14" text-anchor="middle" fill="#1a1a1a">Sep</text>
<line x1="662.4" y1="919.8" x2="662.4" y2="923" stroke="#5a5a5a" stroke-width="1.1"/>
<text transform="translate(664.1 936) rotate(-30) scale(0.93 1)" y="5" font-size="14" text-anchor="middle" fill="#1a1a1a">Nov</text>
<text transform="translate(536 962.8) scale(0.944 1)" font-size="13" text-anchor="middle" fill="#151515">Month</text>
<text transform="translate(365.3 827.1) rotate(-90) scale(1.0 1)" font-size="13" text-anchor="middle" fill="#151515">TVI [1-5]</text>
</svg>
</body></html>
